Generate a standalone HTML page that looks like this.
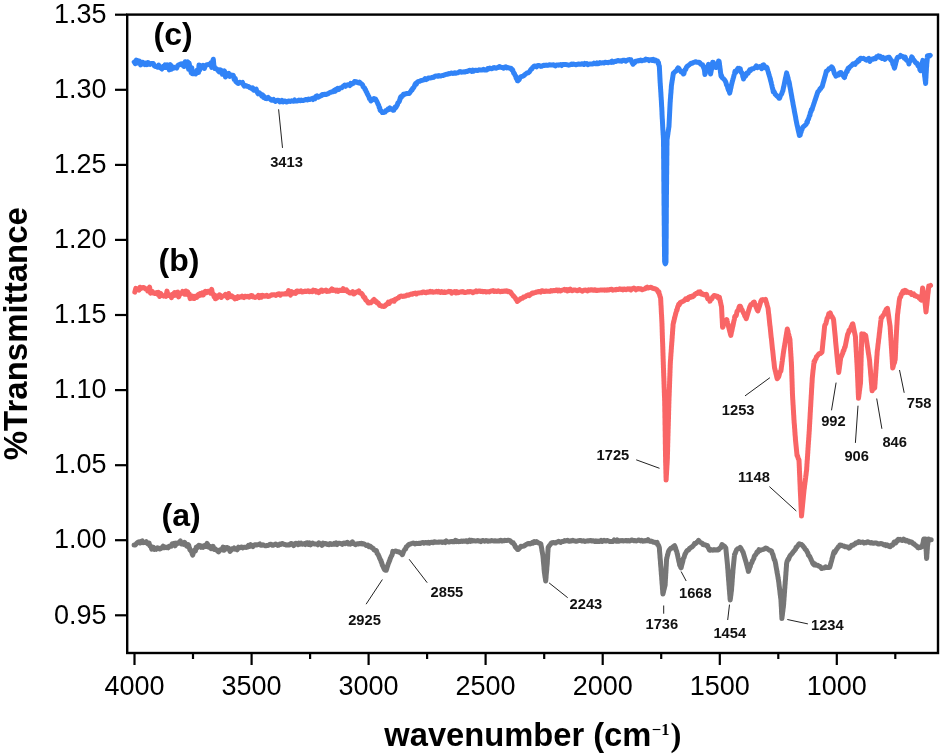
<!DOCTYPE html>
<html><head><meta charset="utf-8"><title>FTIR spectra</title>
<style>
html,body{margin:0;padding:0;background:#fff;}
body{width:942px;height:756px;overflow:hidden;}
svg{display:block;}
text{font-family:"Liberation Sans",Arial,sans-serif;fill:#000;}
.yt{font-size:27px;text-anchor:end;}
.xt{font-size:27px;text-anchor:middle;}
.pk{font-size:14.7px;font-weight:bold;fill:#111;}
.pl{font-size:32px;font-weight:bold;}
.at{font-size:33px;font-weight:bold;}
.sup{font-family:"Liberation Serif",serif;font-size:16.5px;font-weight:bold;}
.rp{font-family:"Liberation Serif",serif;font-weight:bold;}
</style></head>
<body><svg width="942" height="756" viewBox="0 0 942 756">
<rect width="942" height="756" fill="#fff"/>
<rect x="127.2" y="14.6" width="810.8" height="638.4" fill="none" stroke="#000" stroke-width="2.4"/>
<line x1="115" y1="14.7" x2="127.2" y2="14.7" stroke="#000" stroke-width="2.2"/>
<text class="yt" x="106.5" y="22.9">1.35</text>
<line x1="115" y1="89.8" x2="127.2" y2="89.8" stroke="#000" stroke-width="2.2"/>
<text class="yt" x="106.5" y="98.0">1.30</text>
<line x1="115" y1="164.9" x2="127.2" y2="164.9" stroke="#000" stroke-width="2.2"/>
<text class="yt" x="106.5" y="173.1">1.25</text>
<line x1="115" y1="239.9" x2="127.2" y2="239.9" stroke="#000" stroke-width="2.2"/>
<text class="yt" x="106.5" y="248.1">1.20</text>
<line x1="115" y1="315.0" x2="127.2" y2="315.0" stroke="#000" stroke-width="2.2"/>
<text class="yt" x="106.5" y="323.2">1.15</text>
<line x1="115" y1="390.1" x2="127.2" y2="390.1" stroke="#000" stroke-width="2.2"/>
<text class="yt" x="106.5" y="398.3">1.10</text>
<line x1="115" y1="465.2" x2="127.2" y2="465.2" stroke="#000" stroke-width="2.2"/>
<text class="yt" x="106.5" y="473.4">1.05</text>
<line x1="115" y1="540.2" x2="127.2" y2="540.2" stroke="#000" stroke-width="2.2"/>
<text class="yt" x="106.5" y="548.4">1.00</text>
<line x1="115" y1="615.3" x2="127.2" y2="615.3" stroke="#000" stroke-width="2.2"/>
<text class="yt" x="106.5" y="623.5">0.95</text>
<line x1="134.5" y1="653.0" x2="134.5" y2="665" stroke="#000" stroke-width="2.2"/>
<text class="xt" x="134.5" y="694.8">4000</text>
<line x1="193.0" y1="653.0" x2="193.0" y2="659" stroke="#000" stroke-width="2.2"/>
<line x1="251.6" y1="653.0" x2="251.6" y2="665" stroke="#000" stroke-width="2.2"/>
<text class="xt" x="251.6" y="694.8">3500</text>
<line x1="310.1" y1="653.0" x2="310.1" y2="659" stroke="#000" stroke-width="2.2"/>
<line x1="368.6" y1="653.0" x2="368.6" y2="665" stroke="#000" stroke-width="2.2"/>
<text class="xt" x="368.6" y="694.8">3000</text>
<line x1="427.1" y1="653.0" x2="427.1" y2="659" stroke="#000" stroke-width="2.2"/>
<line x1="485.6" y1="653.0" x2="485.6" y2="665" stroke="#000" stroke-width="2.2"/>
<text class="xt" x="485.6" y="694.8">2500</text>
<line x1="544.2" y1="653.0" x2="544.2" y2="659" stroke="#000" stroke-width="2.2"/>
<line x1="602.7" y1="653.0" x2="602.7" y2="665" stroke="#000" stroke-width="2.2"/>
<text class="xt" x="602.7" y="694.8">2000</text>
<line x1="661.2" y1="653.0" x2="661.2" y2="659" stroke="#000" stroke-width="2.2"/>
<line x1="719.8" y1="653.0" x2="719.8" y2="665" stroke="#000" stroke-width="2.2"/>
<text class="xt" x="719.8" y="694.8">1500</text>
<line x1="778.3" y1="653.0" x2="778.3" y2="659" stroke="#000" stroke-width="2.2"/>
<line x1="836.8" y1="653.0" x2="836.8" y2="665" stroke="#000" stroke-width="2.2"/>
<text class="xt" x="836.8" y="694.8">1000</text>
<line x1="895.3" y1="653.0" x2="895.3" y2="659" stroke="#000" stroke-width="2.2"/>
<path d="M134.1 545.0L135.3 545.0L136.6 543.4L137.8 542.3L139.0 541.8L140.1 542.9L141.1 541.5L142.2 540.9L143.3 542.6L144.3 542.3L145.4 542.6L146.3 541.7L147.2 543.4L148.2 544.0L149.1 543.1L150.0 546.1L150.9 546.4L151.7 549.1L152.6 547.2L153.5 547.3L154.3 549.4L155.2 548.7L156.3 549.3L157.5 547.8L158.6 548.2L159.7 549.0L160.9 548.4L162.0 547.6L163.1 546.2L164.1 547.7L165.2 547.1L166.2 547.7L167.3 547.0L168.3 547.8L169.4 546.3L170.3 546.1L171.2 546.2L172.2 543.8L173.1 544.0L174.0 543.4L175.1 545.8L176.1 543.2L177.2 543.7L178.2 543.3L179.3 542.0L180.4 540.9L181.4 544.0L182.4 542.8L183.5 544.3L184.6 542.4L185.6 543.8L186.6 546.0L187.7 546.6L188.3 544.6L188.8 545.5L189.4 548.0L189.9 549.8L190.5 550.2L191.1 551.3L191.6 550.9L192.1 553.6L192.7 555.2L193.4 552.5L194.1 550.4L194.8 550.2L195.5 550.8L196.2 547.2L196.9 548.1L197.6 546.2L198.3 546.3L199.0 545.2L200.0 545.6L201.0 547.3L202.0 546.2L203.1 547.3L204.1 545.7L205.1 545.4L206.1 546.4L207.1 543.3L208.1 546.8L209.1 547.4L210.0 546.3L211.0 548.6L212.0 547.9L213.1 546.3L214.2 549.3L215.2 548.9L216.3 549.9L217.4 550.8L218.6 551.9L219.8 550.1L221.0 549.5L222.0 549.7L223.0 547.1L223.9 550.3L224.9 547.5L225.9 549.0L226.9 547.5L227.9 547.8L229.0 548.7L230.0 551.4L231.0 550.3L232.0 548.8L233.1 549.0L234.1 548.0L235.1 549.1L236.2 548.5L237.2 549.8L238.4 547.2L239.5 548.0L240.7 547.2L241.8 547.0L243.0 547.9L244.1 547.3L245.2 547.3L246.3 547.4L247.4 547.1L248.5 545.4L249.6 546.3L250.7 544.7L251.8 545.6L252.9 546.6L254.0 545.1L255.2 544.8L256.3 545.0L257.5 544.7L258.6 544.6L259.8 543.9L260.8 545.2L261.9 545.3L262.9 544.8L264.0 545.3L265.0 545.7L266.1 545.8L267.1 545.4L268.2 545.4L269.2 544.8L270.3 544.2L271.4 544.5L272.4 545.3L273.5 545.2L274.5 544.6L275.6 544.1L276.7 544.6L277.7 545.4L278.8 545.2L279.8 544.0L280.9 544.4L282.0 543.5L283.0 543.7L284.1 544.5L285.1 544.4L286.2 545.0L287.3 545.1L288.3 544.8L289.4 545.0L290.5 543.8L291.5 543.4L292.6 544.3L293.7 545.6L294.8 544.1L295.8 543.2L296.9 543.9L298.0 544.6L299.0 543.1L300.1 544.1L301.1 543.2L302.2 544.3L303.3 543.9L304.3 543.6L305.4 544.5L306.4 543.0L307.5 542.8L308.5 544.4L309.6 542.9L310.6 544.8L311.7 543.6L312.7 543.1L313.8 543.8L314.8 544.0L315.8 544.1L316.9 544.0L317.9 544.8L319.0 542.9L320.0 544.1L321.0 544.2L322.0 545.4L323.0 543.0L324.0 544.0L325.0 543.4L326.1 543.7L327.1 544.4L328.1 544.2L329.1 544.7L330.1 543.5L331.1 543.9L332.1 544.4L333.1 544.2L334.1 543.4L335.1 544.2L336.2 542.9L337.2 544.5L338.2 543.5L339.2 543.2L340.2 543.4L341.2 543.7L342.2 544.3L343.2 543.2L344.2 543.1L345.3 543.7L346.3 542.8L347.3 542.4L348.3 543.9L349.3 543.2L350.3 544.1L351.3 542.9L352.4 541.8L353.4 543.7L354.4 543.7L355.4 544.6L356.4 543.9L357.4 543.8L358.4 544.0L359.5 543.5L360.5 543.8L361.5 543.2L362.5 544.0L363.6 543.8L364.6 544.3L365.7 545.1L366.8 545.6L367.8 545.1L368.9 546.7L369.9 546.0L371.0 546.9L371.8 547.6L372.5 548.0L373.3 548.6L374.0 549.9L374.8 550.2L375.5 550.7L376.3 550.5L376.8 551.8L377.2 553.6L377.7 554.1L378.2 554.6L378.6 555.7L379.1 556.7L379.6 558.1L380.0 558.9L380.5 560.1L380.9 560.3L381.2 562.0L381.6 562.3L381.9 563.4L382.3 565.1L382.6 565.4L383.0 566.3L383.3 567.2L383.7 568.0L384.5 569.5L385.4 570.2L386.2 570.3L386.6 569.2L386.9 568.2L387.2 567.1L387.6 566.0L387.9 565.0L388.3 563.9L388.6 562.9L389.0 562.1L389.4 560.9L389.8 560.3L390.1 558.9L390.5 558.1L390.9 557.1L391.3 556.1L391.7 555.7L392.1 554.8L392.4 553.7L392.8 551.4L393.2 551.9L394.3 551.5L395.4 551.0L396.4 551.2L397.5 551.7L398.6 551.7L399.6 552.3L400.5 552.9L401.4 553.6L402.4 554.7L402.9 553.3L403.4 551.9L403.9 551.0L404.4 550.1L404.9 549.2L405.6 549.1L406.3 546.8L407.0 546.6L407.8 545.5L408.5 544.8L409.2 544.3L410.2 544.2L411.2 543.6L412.2 543.4L413.2 543.0L414.2 543.4L415.2 543.9L416.2 543.2L417.2 543.6L418.2 543.5L419.2 543.3L420.2 543.5L421.2 543.0L422.2 542.6L423.2 542.4L424.2 543.2L425.2 542.6L426.2 542.6L427.2 543.0L428.2 542.3L429.2 543.3L430.2 542.8L431.2 542.3L432.3 542.2L433.3 542.8L434.3 541.8L435.3 542.0L436.3 542.2L437.3 542.3L438.3 542.1L439.3 542.2L440.3 541.9L441.3 541.9L442.4 542.4L443.4 542.1L444.4 541.7L445.4 542.5L446.4 541.0L447.4 541.7L448.4 541.9L449.4 542.0L450.4 541.6L451.4 541.4L452.4 541.8L453.5 541.4L454.5 541.7L455.5 540.3L456.5 541.6L457.5 541.1L458.5 541.7L459.5 541.6L460.5 541.6L461.5 541.1L462.5 541.4L463.6 541.0L464.6 541.2L465.6 541.0L466.6 540.7L467.6 541.8L468.6 541.3L469.6 540.2L470.6 541.4L471.6 540.4L472.7 540.9L473.7 540.8L474.7 540.8L475.7 541.1L476.7 540.9L477.7 540.4L478.7 541.0L479.8 541.1L480.8 541.7L481.8 540.8L482.8 540.5L483.8 540.8L484.8 541.3L485.8 540.6L486.9 540.7L487.9 541.2L488.9 541.0L489.9 541.1L490.9 540.7L491.9 540.6L492.9 540.8L493.9 540.9L494.9 540.8L495.9 541.0L496.9 541.1L497.9 541.1L498.9 541.0L499.9 540.4L500.9 540.3L501.9 541.1L502.9 540.7L503.9 540.8L504.9 540.2L505.9 540.6L506.9 540.4L507.9 540.3L508.9 540.3L510.0 540.6L511.1 541.8L512.1 542.9L513.2 542.7L513.8 544.0L514.5 544.6L515.1 546.3L515.8 547.7L516.4 547.5L517.4 549.4L518.3 549.5L519.2 548.4L520.0 547.7L520.9 546.3L521.8 546.4L522.7 546.3L523.8 546.1L524.8 545.5L525.9 544.6L527.0 544.2L528.0 543.4L529.1 543.4L530.2 543.9L531.2 543.2L532.3 542.4L533.3 543.1L534.4 541.6L535.4 542.5L536.5 541.6L537.6 542.4L538.6 543.0L539.7 543.4L540.8 543.8L541.0 544.9L541.2 545.9L541.4 547.0L541.6 548.1L541.8 549.1L541.9 550.2L542.1 551.2L542.3 552.3L542.5 553.4L542.7 554.4L542.9 555.5L543.0 556.5L543.1 557.5L543.2 558.5L543.3 559.5L543.3 560.5L543.4 561.5L543.5 562.5L543.6 563.5L543.7 564.5L543.8 565.5L543.9 566.5L544.0 567.5L544.0 568.5L544.1 569.5L544.2 570.5L544.3 571.5L544.4 572.5L544.6 573.6L544.7 574.6L544.9 575.7L545.0 576.8L545.2 577.8L545.4 578.9L545.5 579.9L545.7 581.0L545.8 580.0L545.9 579.0L546.0 578.0L546.1 577.0L546.1 576.0L546.2 575.0L546.3 574.0L546.4 573.0L546.5 572.0L546.6 571.0L546.7 570.0L546.8 569.0L546.8 568.0L546.9 567.0L547.0 566.0L547.1 565.0L547.2 564.0L547.3 563.0L547.3 562.0L547.4 561.0L547.4 560.0L547.5 559.0L547.6 558.0L547.6 557.0L547.7 556.0L547.7 555.0L547.8 554.0L547.8 553.0L547.9 552.0L548.0 551.0L548.0 550.0L548.1 549.0L548.1 548.0L548.2 547.5L548.9 546.2L549.6 545.3L550.4 544.4L551.1 543.3L551.8 542.8L552.5 542.7L553.5 542.5L554.5 542.7L555.5 543.1L556.5 542.3L557.5 542.1L558.6 541.3L559.6 541.6L560.6 542.5L561.6 541.8L562.6 541.4L563.6 541.5L564.6 540.6L565.6 540.9L566.6 540.6L567.6 540.2L568.7 541.3L569.7 541.3L570.7 540.8L571.7 540.9L572.7 540.3L573.7 540.8L574.7 540.9L575.7 541.3L576.7 541.3L577.7 540.9L578.7 540.6L579.8 540.4L580.8 540.5L581.8 541.0L582.8 541.0L583.8 540.8L584.8 541.5L585.8 541.1L586.8 540.9L587.8 540.8L588.8 540.9L589.9 540.5L590.9 540.5L591.9 541.1L592.9 540.7L593.9 540.9L594.9 541.5L595.9 540.9L596.9 541.5L597.9 541.0L599.0 541.6L600.0 541.2L601.0 540.3L602.0 541.5L603.0 540.9L604.0 540.2L605.0 541.0L606.1 541.1L607.1 540.5L608.1 540.8L609.1 541.2L610.1 541.6L611.1 541.5L612.1 541.5L613.2 541.4L614.2 540.0L615.2 540.7L616.2 541.1L617.2 539.9L618.2 541.3L619.2 541.3L620.2 540.6L621.2 540.8L622.3 540.5L623.3 540.9L624.3 540.8L625.3 540.8L626.3 540.4L627.3 540.9L628.3 540.6L629.3 541.1L630.3 540.9L631.3 540.1L632.4 540.1L633.4 540.7L634.4 540.5L635.4 540.8L636.4 540.9L637.4 540.6L638.5 540.0L639.5 540.2L640.6 540.9L641.7 540.3L642.7 541.2L643.8 540.7L644.8 541.0L645.9 540.5L647.0 540.8L648.0 539.7L649.1 540.8L650.1 541.4L651.1 541.1L652.1 541.4L653.1 542.0L654.1 542.3L655.1 542.2L656.1 543.1L657.1 542.4L657.6 544.6L658.2 544.7L658.8 546.1L659.3 547.5L659.4 548.5L659.5 549.6L659.5 550.6L659.6 551.7L659.7 552.8L659.8 553.8L659.9 554.9L660.0 555.9L660.0 557.0L660.1 558.0L660.2 559.0L660.3 560.1L660.4 561.1L660.5 562.2L660.5 563.2L660.6 564.3L660.7 565.4L660.8 566.4L660.9 567.4L661.0 568.4L661.0 569.5L661.1 570.5L661.2 571.5L661.3 572.5L661.3 573.6L661.4 574.6L661.5 575.6L661.6 576.6L661.7 577.6L661.7 578.7L661.8 579.7L661.9 580.7L662.0 581.7L662.0 582.8L662.1 583.8L662.2 584.8L662.3 585.8L662.4 586.8L662.4 587.9L662.5 588.9L662.6 589.9L662.7 590.9L662.7 592.0L662.8 593.0L662.9 594.0L663.2 592.9L663.5 591.8L663.7 590.7L664.0 589.6L664.3 588.6L664.5 587.5L664.8 586.4L665.1 585.3L665.2 584.3L665.2 583.3L665.3 582.3L665.3 581.3L665.4 580.3L665.4 579.3L665.5 578.2L665.6 577.2L665.6 576.2L665.7 575.2L665.7 574.2L665.8 573.2L665.9 572.2L665.9 571.2L666.0 570.2L666.0 569.2L666.1 568.2L666.1 567.2L666.2 566.2L666.3 565.1L666.3 564.1L666.4 563.1L666.4 562.1L666.5 561.1L666.5 560.1L666.6 559.1L666.9 558.0L667.1 556.9L667.4 555.8L667.7 554.8L668.0 553.7L668.2 552.6L668.5 551.5L668.8 550.9L669.8 549.3L670.7 548.3L671.7 548.2L672.7 547.1L673.6 546.3L674.6 545.7L675.0 546.7L675.3 547.5L675.7 548.5L676.1 550.5L676.4 550.6L676.8 551.8L677.0 552.8L677.2 553.8L677.5 554.8L677.7 555.8L677.9 556.8L678.1 557.8L678.4 558.9L678.6 559.9L678.8 560.9L679.0 561.9L679.3 562.9L679.5 563.9L679.7 565.3L680.2 565.3L680.6 567.1L681.1 567.8L681.4 566.7L681.6 565.6L681.9 564.5L682.2 563.5L682.5 562.4L682.8 561.3L683.0 560.2L683.3 558.6L683.7 557.9L684.1 557.3L684.5 555.8L685.0 554.1L685.4 553.7L685.8 552.8L686.2 552.0L687.1 550.7L687.9 550.2L688.8 549.7L689.6 548.3L690.4 548.2L691.3 547.2L692.1 546.9L692.9 546.0L693.7 545.2L694.5 543.6L695.4 543.8L696.2 543.0L697.0 542.0L697.8 541.4L698.6 540.4L699.5 541.6L700.4 542.4L701.3 542.9L702.2 543.1L703.1 544.6L704.0 544.8L705.2 544.7L706.3 545.6L707.5 545.6L708.1 547.3L708.8 548.7L709.4 550.0L710.0 550.3L711.0 549.5L712.0 549.9L713.0 550.3L714.0 549.6L715.2 550.0L716.4 549.8L717.6 550.1L718.8 549.7L719.4 548.4L720.1 548.0L720.7 548.0L721.3 546.0L722.0 544.6L722.6 545.3L723.4 545.5L724.2 546.0L725.0 546.9L725.8 548.0L725.9 549.0L726.0 550.0L726.1 551.0L726.2 552.0L726.3 553.0L726.4 554.0L726.5 555.0L726.6 556.0L726.7 557.0L726.8 558.0L726.9 559.0L727.0 560.0L727.1 561.0L727.2 562.0L727.3 563.0L727.4 564.0L727.5 565.0L727.6 566.0L727.6 567.0L727.7 568.0L727.8 569.0L727.9 570.0L728.0 571.0L728.0 572.0L728.1 573.0L728.2 574.0L728.2 575.0L728.3 576.0L728.4 577.0L728.5 578.0L728.5 579.0L728.6 580.0L728.7 581.0L728.8 582.0L728.9 583.0L728.9 584.0L729.0 585.0L729.1 586.0L729.2 587.0L729.2 588.0L729.3 589.0L729.4 590.0L729.5 591.0L729.6 592.0L729.6 593.0L729.7 594.0L729.8 595.0L729.9 596.0L730.0 597.0L730.0 598.0L730.1 599.0L730.2 600.0L730.3 599.0L730.5 598.0L730.6 597.0L730.7 596.0L730.9 595.0L731.0 594.0L731.1 593.0L731.2 592.0L731.4 591.0L731.5 590.0L731.6 589.0L731.6 588.0L731.7 587.0L731.8 586.0L731.9 585.0L732.0 584.0L732.0 583.0L732.1 582.0L732.2 581.0L732.2 580.0L732.3 579.0L732.4 578.0L732.5 577.0L732.5 576.0L732.6 575.0L732.7 574.0L732.8 573.0L732.9 572.0L732.9 571.0L733.0 570.0L733.1 569.0L733.2 568.0L733.3 567.0L733.4 566.0L733.5 565.0L733.6 564.0L733.7 563.0L733.8 562.0L733.9 561.0L734.0 560.0L734.1 559.0L734.2 558.0L734.3 557.0L734.4 556.0L734.5 554.4L734.9 554.3L735.3 553.1L735.8 551.7L736.2 550.8L736.6 549.8L737.0 549.4L738.1 548.5L739.1 548.6L740.2 547.3L740.8 548.2L741.3 549.2L741.9 550.0L742.4 551.1L743.0 552.0L743.3 553.0L743.6 554.0L743.9 555.0L744.2 556.0L744.5 557.0L744.8 558.0L745.1 559.0L745.4 560.0L745.7 561.0L746.0 562.0L746.3 563.0L746.5 564.0L746.8 565.0L747.1 566.0L747.3 567.0L747.6 568.0L747.9 569.0L748.1 570.0L748.4 571.4L748.8 570.5L749.1 568.6L749.5 568.5L749.9 567.0L750.3 566.6L750.6 564.9L751.0 563.7L751.5 563.3L752.0 562.2L752.4 560.8L752.9 560.0L753.4 559.1L753.9 558.1L754.3 556.3L754.8 555.5L755.3 555.0L755.9 554.3L756.5 553.1L757.1 551.8L757.8 552.2L758.4 550.7L759.0 549.6L760.1 550.4L761.2 549.9L762.3 549.6L763.3 549.3L764.4 548.9L765.5 548.1L766.6 548.2L767.6 549.0L768.6 549.7L769.6 550.3L770.6 550.4L771.6 551.2L771.9 552.3L772.3 553.4L772.6 554.1L773.0 554.8L773.3 556.0L773.7 557.7L774.0 558.6L774.4 559.9L774.7 559.9L775.1 561.5L775.4 562.7L775.6 563.7L775.8 564.8L775.9 565.8L776.1 566.8L776.3 567.9L776.5 568.9L776.7 569.9L776.9 571.0L777.0 572.0L777.2 573.1L777.4 574.1L777.6 575.1L777.8 576.2L778.0 577.2L778.1 578.2L778.3 579.3L778.5 580.3L778.6 581.3L778.8 582.3L778.9 583.3L779.0 584.3L779.1 585.3L779.2 586.3L779.4 587.3L779.5 588.3L779.6 589.3L779.8 590.3L779.9 591.4L780.0 592.4L780.1 593.4L780.2 594.4L780.4 595.4L780.5 596.4L780.6 597.4L780.8 598.4L780.9 599.4L781.0 600.4L781.0 601.4L781.1 602.4L781.1 603.4L781.2 604.4L781.2 605.4L781.3 606.4L781.4 607.4L781.4 608.4L781.5 609.5L781.5 610.5L781.5 611.5L781.6 612.5L781.6 613.5L781.7 614.5L781.8 615.5L781.8 616.5L781.9 617.5L781.9 618.5L782.0 617.5L782.1 616.5L782.3 615.5L782.4 614.5L782.5 613.5L782.6 612.5L782.8 611.4L782.9 610.4L783.0 609.4L783.1 608.4L783.3 607.4L783.4 606.4L783.5 605.4L783.6 604.4L783.7 603.4L783.7 602.4L783.8 601.4L783.9 600.4L784.0 599.4L784.0 598.4L784.1 597.4L784.2 596.4L784.3 595.4L784.3 594.4L784.4 593.4L784.5 592.3L784.6 591.3L784.6 590.3L784.7 589.3L784.8 588.3L784.9 587.3L784.9 586.3L785.0 585.3L785.1 584.3L785.2 583.3L785.2 582.3L785.3 581.3L785.4 580.3L785.5 579.3L785.6 578.2L785.6 577.2L785.7 576.2L785.8 575.1L785.9 574.1L785.9 573.1L786.0 572.0L786.1 571.0L786.2 569.9L786.2 568.9L786.3 567.9L786.4 566.8L786.5 565.8L786.5 564.8L786.6 563.7L786.7 563.1L787.2 561.0L787.7 560.3L788.1 559.1L788.6 559.3L789.1 557.9L789.5 556.7L790.0 556.0L790.5 555.0L791.2 554.5L791.9 553.7L792.6 552.7L793.4 551.6L794.1 550.9L794.8 550.0L795.5 549.3L796.1 547.2L796.7 547.3L797.4 546.3L798.0 545.5L798.6 544.5L799.2 543.8L800.4 544.2L801.5 544.4L802.1 545.2L802.7 545.5L803.2 546.3L803.8 547.3L804.4 547.7L805.0 549.0L805.6 549.7L806.2 550.1L806.7 550.9L807.3 552.3L807.9 553.1L808.4 555.1L808.8 555.5L809.3 555.8L809.8 556.8L810.2 557.5L810.7 558.5L811.1 559.7L811.6 560.7L812.1 561.4L812.5 562.9L813.0 563.8L814.0 564.8L814.9 564.0L815.9 565.2L816.9 565.3L817.8 565.3L818.8 566.3L819.7 566.3L820.7 567.4L821.7 568.5L822.7 567.9L823.7 568.1L824.7 567.9L825.7 566.8L826.7 567.6L827.7 567.5L828.7 567.6L829.7 567.4L830.0 566.4L830.3 565.4L830.5 564.4L830.8 563.4L831.1 562.4L831.4 561.4L831.7 560.3L831.9 559.3L832.2 558.3L832.5 557.3L832.8 556.3L833.0 555.3L833.3 554.3L833.6 552.9L834.2 551.7L834.9 552.5L835.5 551.3L836.2 550.1L836.8 549.0L837.4 548.4L838.1 547.0L838.7 547.0L839.4 545.9L840.0 544.9L841.0 545.1L842.0 545.6L843.0 545.9L844.0 546.0L845.0 546.8L846.0 546.8L847.0 547.0L848.0 547.0L849.0 548.1L849.9 547.6L850.7 546.7L851.6 545.2L852.4 545.2L853.3 545.2L854.1 544.2L855.0 544.1L855.8 542.9L856.7 542.8L857.7 542.7L858.8 541.5L859.8 542.3L860.8 542.4L861.9 542.2L862.9 542.1L863.9 543.1L864.9 542.5L866.0 542.8L867.0 542.0L868.1 541.8L869.1 542.5L870.2 542.9L871.3 542.5L872.3 543.1L873.4 543.3L874.5 542.9L875.5 543.1L876.6 543.0L877.7 543.8L878.7 544.1L879.8 543.7L880.8 543.6L881.9 543.7L882.9 544.2L883.9 544.9L885.0 544.5L886.0 545.7L887.0 544.8L888.0 545.6L889.1 546.4L890.1 546.8L890.9 545.3L891.7 545.2L892.5 545.3L893.3 544.2L894.1 542.2L895.0 542.6L895.8 542.9L896.6 540.8L897.4 541.1L898.2 539.3L899.0 540.1L900.1 539.4L901.3 540.2L902.4 540.5L903.6 539.2L904.7 539.9L905.7 540.9L906.7 540.4L907.6 541.2L908.6 541.1L909.6 542.3L910.5 541.8L911.5 541.9L912.5 542.8L913.2 543.7L914.0 543.8L914.7 544.7L915.5 545.4L916.2 545.7L916.9 546.1L917.7 547.5L918.4 547.9L919.4 547.1L920.3 547.5L921.3 547.0L922.3 546.5L922.5 545.0L922.7 544.2L922.9 543.5L923.2 542.4L923.4 540.8L923.6 539.7L923.8 539.1L925.5 539.0L925.6 540.0L925.6 541.1L925.7 542.1L925.7 543.1L925.8 544.1L925.8 545.2L925.9 546.2L926.0 547.2L926.0 548.2L926.1 549.3L926.1 550.3L926.2 551.3L926.3 552.3L926.3 553.4L926.4 554.4L926.4 555.4L926.5 556.4L926.5 557.5L926.6 558.5L926.7 557.5L926.8 556.4L926.8 555.4L926.9 554.3L927.0 553.3L927.1 552.3L927.1 551.2L927.2 550.2L927.3 549.2L927.4 548.1L927.4 547.1L927.5 546.0L927.6 545.1L927.8 544.3L927.9 542.5L928.0 542.4L928.2 541.7L928.4 540.4L928.5 539.1L929.9 539.8L931.2 539.8" fill="none" stroke="#767676" stroke-width="5.0" stroke-linejoin="round" stroke-linecap="round"/>
<path d="M134.8 292.2L135.8 288.3L136.8 289.6L137.9 289.3L138.9 290.1L139.9 287.2L140.9 288.4L142.0 287.9L143.0 287.4L144.0 287.7L144.9 288.5L145.9 289.2L146.8 288.9L147.7 291.0L148.7 290.1L149.6 287.1L150.5 293.2L151.5 291.6L152.4 291.5L153.4 293.1L154.5 293.4L155.5 293.5L156.5 292.6L157.5 294.2L158.6 292.3L159.6 296.5L160.6 293.3L161.6 294.9L162.7 295.5L163.7 296.1L164.8 295.5L165.9 296.4L167.0 291.1L168.1 295.5L169.2 295.4L170.3 295.1L171.4 297.6L172.5 294.4L173.6 295.5L174.6 292.6L175.6 295.2L176.6 292.4L177.7 292.1L178.7 296.9L179.7 294.3L180.7 293.0L181.7 293.4L182.7 291.4L183.7 292.1L184.7 294.2L185.7 291.0L186.7 294.2L187.7 291.7L188.5 294.9L189.3 294.1L190.1 298.6L191.0 298.4L191.8 297.1L192.6 296.1L193.4 298.3L194.2 298.5L195.1 296.4L195.9 297.3L196.8 297.4L197.6 295.3L198.6 294.3L199.5 295.5L200.4 293.7L201.4 294.8L202.4 292.8L203.3 295.0L204.4 292.4L205.4 291.3L206.4 292.7L207.5 291.6L208.6 291.2L209.6 292.1L210.6 293.2L211.7 289.3L212.3 293.0L212.9 293.8L213.5 294.8L214.2 297.0L214.8 295.2L215.4 298.8L216.0 298.5L216.8 298.1L217.7 296.9L218.5 295.9L219.4 294.8L220.2 295.2L221.3 297.5L222.3 296.2L223.4 296.0L224.4 295.6L225.5 294.3L226.6 295.8L227.6 297.8L228.7 293.5L229.7 296.4L230.8 296.7L231.8 295.9L232.8 296.7L233.8 297.6L234.9 298.8L235.9 297.7L236.9 298.3L237.9 296.7L239.0 297.5L240.0 296.7L241.0 296.9L242.0 296.1L243.0 297.0L244.0 297.6L245.0 296.2L246.0 296.5L247.0 296.8L248.0 296.3L249.0 297.1L250.1 296.6L251.1 295.4L252.2 295.6L253.2 297.1L254.3 297.0L255.3 297.5L256.4 296.8L257.4 296.8L258.4 295.3L259.5 297.6L260.5 295.7L261.5 297.2L262.6 295.3L263.6 295.6L264.6 296.2L265.7 295.6L266.7 295.3L267.8 296.5L268.8 296.3L269.8 296.0L270.9 295.3L271.9 294.8L272.9 294.9L274.0 294.7L275.0 295.0L276.0 295.4L277.1 294.5L278.1 293.9L279.1 293.8L280.2 295.2L281.2 294.1L282.3 294.0L283.3 293.9L284.3 294.0L285.4 293.5L286.4 294.1L287.4 293.7L288.5 290.7L289.5 292.8L290.5 295.1L291.6 291.6L292.6 292.7L293.6 293.3L294.7 292.3L295.7 293.3L296.8 291.1L297.8 291.0L298.8 291.8L299.9 291.2L300.9 290.8L301.9 292.1L303.0 291.8L304.0 291.5L305.0 291.1L306.1 291.6L307.1 291.3L308.1 290.7L309.2 291.7L310.2 291.5L311.3 291.2L312.3 291.6L313.3 290.1L314.4 290.8L315.4 290.5L316.4 292.0L317.5 291.3L318.5 292.6L319.5 292.2L320.6 290.6L321.6 290.0L322.6 291.3L323.7 290.7L324.7 290.8L325.8 290.1L326.8 291.4L327.8 291.0L328.9 291.2L329.9 291.1L330.9 290.1L331.9 288.9L333.0 290.4L334.0 290.0L335.0 290.0L336.0 291.1L337.0 290.2L338.1 291.4L339.1 290.2L340.1 290.5L341.1 290.3L342.2 290.4L343.2 288.7L344.2 290.5L345.3 290.2L346.4 289.8L347.4 291.5L348.5 291.8L349.6 292.9L350.6 292.8L351.6 292.9L352.7 291.7L353.8 294.0L354.8 293.4L355.9 292.5L356.9 291.8L358.0 292.1L358.9 291.0L359.7 292.9L360.6 293.0L361.4 293.3L362.3 294.4L362.8 295.3L363.4 296.7L363.9 297.3L364.4 297.2L365.0 297.9L365.5 299.6L366.1 300.3L366.8 300.8L367.4 301.4L368.1 302.7L368.7 303.1L369.7 302.7L370.8 302.7L371.8 301.9L372.9 300.5L374.0 299.4L374.8 300.4L375.6 301.7L376.4 301.5L377.2 303.0L378.1 303.0L378.9 304.2L379.8 305.6L380.9 305.5L381.9 306.3L383.0 306.3L383.9 306.5L384.9 306.1L385.8 304.7L386.7 304.5L387.6 303.5L388.4 302.1L389.3 303.4L390.1 301.9L391.0 301.2L392.1 300.8L393.1 300.5L394.1 301.2L395.2 299.3L396.0 299.3L396.9 298.6L397.7 298.1L398.6 297.9L399.4 296.7L400.5 296.2L401.5 296.0L402.6 296.4L403.7 296.3L404.7 296.0L405.8 296.0L406.9 295.0L407.9 295.3L409.0 295.0L410.1 294.4L411.1 293.9L412.2 294.3L413.2 293.5L414.3 293.4L415.4 293.0L416.4 294.0L417.5 293.1L418.5 292.9L419.6 292.9L420.7 292.7L421.7 292.8L422.8 291.9L423.8 292.0L424.9 292.6L426.0 292.8L427.0 291.9L428.1 292.3L429.1 292.0L430.2 291.2L431.3 292.0L432.3 291.6L433.4 292.3L434.4 291.9L435.5 291.9L436.5 291.3L437.5 292.0L438.5 291.2L439.6 292.0L440.6 292.5L441.6 291.5L442.6 292.3L443.6 292.6L444.6 291.9L445.6 292.5L446.7 292.1L447.7 291.9L448.7 291.3L449.7 291.7L450.7 291.5L451.7 293.1L452.7 292.2L453.8 292.1L454.8 291.6L455.8 292.9L456.8 291.7L457.8 292.8L458.8 292.6L459.8 292.1L460.8 291.8L461.8 292.0L462.9 291.5L463.9 292.3L464.9 292.6L465.9 292.3L466.9 292.3L467.9 291.6L468.9 292.0L469.9 291.4L470.9 291.6L471.9 292.1L473.0 292.7L474.0 291.7L475.0 291.7L476.0 290.9L477.0 291.7L478.0 291.2L479.0 291.0L480.0 291.0L481.0 291.6L482.0 291.3L483.0 291.8L484.1 291.4L485.1 291.4L486.1 292.0L487.1 291.7L488.1 291.7L489.1 291.9L490.1 291.4L491.1 290.9L492.1 290.9L493.1 290.6L494.2 291.4L495.2 291.0L496.2 291.4L497.2 291.5L498.2 290.8L499.2 291.2L500.3 291.7L501.3 291.2L502.4 291.6L503.5 291.2L504.5 291.0L505.6 291.3L506.7 290.7L507.8 291.8L508.8 291.3L509.9 292.1L510.6 292.0L511.3 293.4L512.0 294.3L512.7 295.0L513.4 296.1L514.1 296.5L514.7 297.3L515.4 298.1L516.0 299.3L516.7 300.2L517.3 301.5L518.2 300.7L519.1 300.0L520.0 299.4L520.8 298.4L521.7 298.4L522.6 298.2L523.5 297.0L524.5 296.9L525.4 296.8L526.4 295.8L527.3 295.6L528.3 294.9L529.2 295.6L530.2 294.7L531.1 294.1L532.2 293.0L533.2 293.3L534.3 292.7L535.4 292.6L536.4 292.0L537.5 292.0L538.5 291.4L539.6 291.5L540.6 292.1L541.7 290.7L542.7 290.7L543.7 291.4L544.7 291.5L545.8 290.9L546.8 291.3L547.8 291.2L548.9 291.2L549.9 291.4L550.9 290.6L551.9 291.0L553.0 290.8L554.0 290.4L555.0 290.8L556.1 290.0L557.1 289.9L558.1 290.9L559.1 290.0L560.2 291.0L561.2 290.7L562.2 290.1L563.2 289.9L564.2 289.4L565.3 290.3L566.3 289.6L567.3 290.9L568.3 289.6L569.3 290.3L570.3 289.2L571.3 290.2L572.4 290.8L573.4 290.1L574.4 290.0L575.4 290.1L576.4 290.5L577.4 290.7L578.4 290.2L579.5 289.5L580.5 290.4L581.5 290.7L582.5 291.2L583.5 290.3L584.5 290.3L585.5 290.0L586.5 290.5L587.5 290.9L588.6 289.8L589.6 290.2L590.6 289.7L591.6 289.8L592.6 290.0L593.6 290.3L594.6 289.7L595.6 289.9L596.6 290.6L597.6 290.2L598.7 290.3L599.7 290.1L600.7 289.9L601.7 290.1L602.7 290.1L603.7 289.9L604.7 290.3L605.7 289.9L606.7 290.2L607.7 289.8L608.7 290.1L609.8 289.5L610.8 289.5L611.8 289.2L612.8 290.2L613.8 289.9L614.8 289.7L615.8 289.9L616.8 289.2L617.8 289.6L618.8 289.3L619.9 288.8L620.9 289.4L621.9 289.1L622.9 290.0L623.9 289.1L624.9 289.1L625.9 289.8L626.9 289.3L627.9 288.7L628.9 289.3L629.9 288.9L630.9 289.9L631.9 288.7L632.9 288.8L633.9 288.0L634.9 288.8L635.9 289.8L636.9 288.9L637.9 288.5L638.9 289.0L639.9 288.7L640.9 288.8L641.9 289.8L643.0 289.4L644.0 289.1L645.1 288.9L646.1 287.7L647.2 287.1L648.3 288.0L649.3 287.6L650.4 287.3L651.5 287.5L652.5 288.3L653.6 288.5L654.6 288.7L655.7 289.1L656.5 289.5L657.3 290.2L658.1 292.1L658.9 291.8L659.2 294.2L659.5 294.4L659.8 295.0L660.0 296.7L660.3 296.7L660.6 298.0L660.7 299.0L660.7 300.1L660.8 301.1L660.8 302.1L660.9 303.2L660.9 304.2L661.0 305.2L661.1 306.2L661.1 307.3L661.2 308.3L661.2 309.3L661.3 310.4L661.3 311.4L661.4 312.4L661.4 313.5L661.5 314.5L661.6 315.5L661.6 316.5L661.7 317.6L661.7 318.6L661.8 319.6L661.8 320.7L661.9 321.7L661.9 322.7L662.0 323.7L662.0 324.7L662.0 325.8L662.1 326.8L662.1 327.8L662.1 328.8L662.2 329.8L662.2 330.8L662.2 331.8L662.3 332.9L662.3 333.9L662.3 334.9L662.4 335.9L662.4 336.9L662.4 337.9L662.5 338.9L662.5 340.0L662.5 341.0L662.6 342.0L662.6 343.0L662.7 344.0L662.7 345.0L662.7 346.1L662.8 347.1L662.8 348.1L662.8 349.1L662.9 350.1L662.9 351.1L662.9 352.1L663.0 353.2L663.0 354.2L663.0 355.2L663.1 356.2L663.1 357.2L663.1 358.2L663.2 359.2L663.2 360.3L663.2 361.3L663.3 362.3L663.3 363.3L663.3 364.3L663.4 365.3L663.4 366.4L663.4 367.4L663.5 368.4L663.5 369.4L663.6 370.5L663.6 371.5L663.6 372.5L663.7 373.5L663.7 374.6L663.7 375.6L663.8 376.6L663.8 377.6L663.9 378.7L663.9 379.7L663.9 380.7L664.0 381.7L664.0 382.8L664.0 383.8L664.1 384.8L664.1 385.8L664.1 386.8L664.2 387.9L664.2 388.9L664.3 389.9L664.3 390.9L664.3 392.0L664.4 393.0L664.4 394.0L664.4 395.0L664.5 396.1L664.5 397.1L664.6 398.1L664.6 399.1L664.6 400.2L664.7 401.2L664.7 402.2L664.7 403.2L664.7 404.2L664.7 405.2L664.8 406.3L664.8 407.3L664.8 408.3L664.8 409.3L664.8 410.3L664.8 411.3L664.9 412.3L664.9 413.4L664.9 414.4L664.9 415.4L664.9 416.4L664.9 417.4L665.0 418.4L665.0 419.4L665.0 420.5L665.0 421.5L665.0 422.5L665.0 423.5L665.0 424.5L665.1 425.5L665.1 426.5L665.1 427.6L665.1 428.6L665.1 429.6L665.1 430.6L665.2 431.6L665.2 432.6L665.2 433.6L665.2 434.6L665.2 435.7L665.2 436.7L665.3 437.7L665.3 438.7L665.3 439.7L665.3 440.7L665.3 441.7L665.3 442.8L665.3 443.8L665.4 444.8L665.4 445.8L665.4 446.8L665.4 447.8L665.4 448.8L665.4 449.9L665.5 450.9L665.5 451.9L665.5 452.9L665.5 453.9L665.5 454.9L665.5 455.9L665.6 457.0L665.6 458.0L665.6 459.0L665.6 460.0L665.6 461.0L665.6 462.0L665.7 463.0L665.7 464.0L665.7 465.0L665.8 466.0L665.8 467.0L665.8 468.0L665.8 469.0L665.9 470.0L665.9 471.0L665.9 472.0L665.9 473.0L666.0 474.0L666.0 475.0L666.0 476.0L666.0 477.0L666.1 478.0L666.1 479.0L666.1 480.0L666.2 479.0L666.2 478.0L666.3 477.0L666.3 476.0L666.4 475.0L666.5 474.0L666.5 473.0L666.6 472.0L666.6 471.0L666.7 470.0L666.8 469.0L666.8 468.0L666.9 467.0L666.9 466.0L667.0 465.0L667.1 464.0L667.1 463.0L667.2 462.0L667.2 461.0L667.3 460.0L667.3 459.0L667.4 458.0L667.4 457.0L667.4 455.9L667.4 454.9L667.5 453.9L667.5 452.9L667.5 451.9L667.6 450.9L667.6 449.9L667.6 448.8L667.6 447.8L667.7 446.8L667.7 445.8L667.7 444.8L667.7 443.8L667.8 442.8L667.8 441.7L667.8 440.7L667.9 439.7L667.9 438.7L667.9 437.7L667.9 436.7L668.0 435.7L668.0 434.6L668.0 433.6L668.1 432.6L668.1 431.6L668.1 430.6L668.1 429.6L668.2 428.6L668.2 427.6L668.2 426.5L668.3 425.5L668.3 424.5L668.3 423.5L668.3 422.5L668.4 421.5L668.4 420.5L668.4 419.4L668.5 418.4L668.5 417.4L668.5 416.4L668.5 415.4L668.6 414.4L668.6 413.4L668.6 412.3L668.6 411.3L668.7 410.3L668.7 409.3L668.7 408.3L668.8 407.3L668.8 406.3L668.8 405.2L668.8 404.2L668.9 403.2L668.9 402.2L668.9 401.2L669.0 400.2L669.0 399.1L669.0 398.1L669.1 397.1L669.1 396.1L669.2 395.0L669.2 394.0L669.2 393.0L669.3 392.0L669.3 390.9L669.3 389.9L669.4 388.9L669.4 387.9L669.5 386.8L669.5 385.8L669.5 384.8L669.6 383.8L669.6 382.8L669.6 381.7L669.7 380.7L669.7 379.7L669.7 378.7L669.8 377.6L669.8 376.6L669.9 375.6L669.9 374.6L669.9 373.5L670.0 372.5L670.0 371.5L670.0 370.5L670.1 369.4L670.1 368.4L670.2 367.4L670.2 366.4L670.2 365.3L670.3 364.3L670.3 363.3L670.4 362.3L670.4 361.3L670.5 360.3L670.6 359.3L670.7 358.3L670.7 357.3L670.8 356.3L670.9 355.3L670.9 354.3L671.0 353.3L671.1 352.3L671.2 351.3L671.2 350.3L671.3 349.3L671.4 348.3L671.4 347.3L671.5 346.3L671.6 345.3L671.7 344.3L671.7 343.4L671.8 342.4L671.9 341.4L672.0 340.4L672.0 339.4L672.1 338.4L672.2 337.4L672.2 336.4L672.3 335.4L672.4 334.4L672.5 333.4L672.5 332.4L672.6 331.4L672.7 330.4L672.7 329.4L672.8 328.4L672.9 327.4L673.0 326.4L673.0 325.4L673.1 324.3L673.4 323.0L673.7 322.0L673.9 321.2L674.2 319.6L674.5 318.5L674.7 317.5L675.0 316.4L675.3 315.4L675.5 314.3L675.8 313.2L676.1 312.2L676.4 311.1L676.6 310.1L676.9 310.3L677.4 308.4L677.8 306.5L678.3 305.7L678.7 304.2L679.2 304.9L679.6 304.1L680.1 302.8L681.0 302.3L681.9 301.9L682.9 301.3L683.8 300.9L684.7 300.1L685.6 298.8L686.6 299.6L687.6 299.6L688.6 297.4L689.5 297.7L690.4 296.6L691.2 297.1L692.1 296.1L693.0 296.6L693.9 295.9L694.8 294.4L695.7 293.8L696.6 293.2L697.4 293.4L698.3 292.0L699.2 292.3L700.1 291.8L700.9 293.9L701.8 294.2L702.6 293.8L703.5 294.7L705.1 294.4L705.8 295.4L706.5 294.3L707.2 297.1L707.8 298.8L708.5 298.5L709.2 298.8L709.9 301.2L710.6 299.9L711.3 299.2L712.0 298.7L712.7 296.9L713.4 296.5L714.1 295.5L715.2 295.7L716.2 296.4L717.3 296.2L718.3 298.1L719.4 297.3L719.6 298.4L719.9 299.4L720.1 300.5L720.3 301.5L720.6 302.6L720.8 303.6L721.0 304.7L721.3 305.7L721.5 306.8L721.6 307.8L721.6 308.8L721.7 309.8L721.7 310.8L721.8 311.9L721.8 312.9L721.9 313.9L721.9 314.9L722.0 315.9L722.0 316.9L722.1 317.9L722.2 318.9L722.2 319.9L722.3 320.9L722.3 321.9L722.4 323.0L722.4 324.0L722.5 325.0L722.5 326.0L722.6 327.3L723.1 326.5L723.6 324.0L724.2 324.0L724.7 323.0L725.2 322.3L725.7 321.5L726.8 319.6L727.0 320.6L727.3 321.6L727.5 322.6L727.8 323.6L728.0 324.5L728.3 325.5L728.5 326.5L728.8 327.5L729.0 328.5L729.3 329.5L729.5 330.5L729.8 331.4L730.0 332.4L730.3 333.4L730.5 334.4L730.8 335.4L731.0 334.4L731.2 333.4L731.4 332.4L731.7 331.4L731.9 330.4L732.1 329.4L732.3 328.4L732.5 327.4L732.8 326.4L733.0 325.4L733.2 324.4L733.4 323.4L733.6 322.4L733.8 321.4L734.1 320.4L734.3 319.4L734.5 318.4L734.7 316.9L735.1 315.9L735.6 316.0L736.0 315.9L736.4 314.8L736.8 312.4L737.2 311.1L737.7 310.7L738.1 310.0L738.5 309.8L738.9 307.6L739.4 306.3L739.8 306.4L740.3 306.3L740.8 307.2L741.3 309.0L741.8 309.5L742.2 310.0L742.7 311.4L743.2 312.3L743.7 313.4L744.2 314.1L744.7 315.9L745.2 316.4L745.7 317.3L746.2 318.7L746.5 317.7L746.8 316.7L747.1 315.7L747.4 314.7L747.7 313.7L748.0 312.7L748.3 311.8L748.6 310.8L748.9 309.8L749.2 308.8L749.5 307.8L749.8 306.8L750.1 306.4L750.9 304.5L751.6 304.7L752.4 303.9L753.1 302.6L753.9 302.1L754.3 302.1L754.8 304.1L755.2 304.4L755.6 305.5L756.1 307.2L756.5 307.5L756.9 309.1L757.4 310.2L757.8 311.0L758.1 310.0L758.4 309.1L758.8 308.1L759.1 307.1L759.4 306.2L759.7 305.2L760.0 304.2L760.3 303.3L760.6 302.3L761.0 301.3L761.3 300.4L761.6 300.0L762.9 299.6L764.2 300.0L765.5 299.4L765.8 300.4L766.1 301.4L766.4 302.4L766.7 303.4L766.9 304.4L767.2 305.4L767.5 306.4L767.8 307.4L768.1 308.4L768.2 309.4L768.3 310.4L768.4 311.4L768.5 312.4L768.6 313.4L768.8 314.4L768.9 315.4L769.0 316.4L769.1 317.4L769.2 318.4L769.3 319.4L769.4 320.5L769.5 321.5L769.6 322.5L769.7 323.5L769.8 324.5L769.9 325.5L770.1 326.5L770.2 327.5L770.3 328.5L770.4 329.5L770.5 330.5L770.6 331.5L770.7 332.5L770.8 333.5L770.9 334.5L771.0 335.5L771.1 336.5L771.2 337.5L771.4 338.5L771.5 339.5L771.6 340.5L771.7 341.5L771.8 342.5L771.9 343.5L772.0 344.5L772.1 345.5L772.2 346.5L772.3 347.5L772.4 348.5L772.5 349.5L772.7 350.5L772.8 351.5L772.9 352.5L773.0 353.5L773.1 354.5L773.2 355.5L773.3 356.5L773.4 357.5L773.5 358.5L773.6 359.5L773.7 360.5L773.9 361.5L774.0 362.5L774.1 363.5L774.2 364.5L774.3 365.5L774.4 366.5L774.5 367.5L774.7 368.5L775.0 369.4L775.2 370.4L775.4 371.4L775.7 372.4L775.9 373.4L776.1 374.3L776.4 375.3L776.6 376.3L776.8 377.2L777.1 378.2L777.3 378.7L777.8 377.9L778.2 377.5L778.6 376.8L779.1 375.4L779.5 373.7L780.0 372.4L780.4 371.4L780.9 371.0L781.0 370.0L781.2 369.0L781.3 368.0L781.4 367.0L781.6 366.0L781.7 365.0L781.9 364.0L782.0 363.0L782.1 362.0L782.3 361.1L782.4 360.1L782.5 359.1L782.7 358.1L782.8 357.1L783.0 356.1L783.1 355.1L783.2 354.1L783.4 353.1L783.5 352.1L783.7 351.1L783.8 350.1L784.0 349.1L784.2 348.1L784.3 347.1L784.5 346.1L784.7 345.1L784.8 344.1L785.0 343.1L785.2 342.1L785.3 341.1L785.5 340.0L785.6 339.0L785.8 338.0L786.0 337.0L786.1 336.0L786.3 335.0L786.5 334.0L786.6 333.0L786.8 332.0L787.0 331.0L787.1 330.0L787.3 329.0L787.6 330.0L787.8 331.0L788.1 332.1L788.3 333.1L788.6 334.1L788.9 335.1L789.1 336.1L789.4 337.2L789.6 338.2L789.9 339.2L790.0 340.2L790.0 341.3L790.1 342.3L790.2 343.3L790.2 344.3L790.3 345.4L790.3 346.4L790.4 347.4L790.5 348.5L790.5 349.5L790.6 350.5L790.7 351.5L790.7 352.6L790.8 353.6L790.9 354.6L790.9 355.6L791.0 356.7L791.1 357.7L791.1 358.7L791.2 359.8L791.2 360.8L791.3 361.8L791.4 362.8L791.4 363.9L791.5 364.9L791.5 365.9L791.6 366.9L791.6 367.9L791.6 368.9L791.7 369.9L791.7 370.9L791.7 371.9L791.8 372.9L791.8 373.9L791.8 374.9L791.9 375.9L791.9 376.9L791.9 377.9L792.0 378.9L792.0 379.9L792.0 381.0L792.1 382.0L792.1 383.0L792.1 384.0L792.2 385.0L792.2 386.0L792.2 387.0L792.3 388.0L792.3 389.0L792.3 390.0L792.4 391.0L792.4 392.0L792.4 393.0L792.5 394.0L792.5 395.0L792.6 396.0L792.6 397.0L792.7 398.0L792.7 399.0L792.8 400.0L792.9 401.0L792.9 402.0L793.0 403.0L793.0 404.0L793.1 405.0L793.2 406.0L793.2 407.0L793.3 408.0L793.3 409.0L793.4 410.0L793.5 411.0L793.5 412.0L793.6 413.0L793.6 414.0L793.7 415.0L793.8 416.0L793.8 417.0L793.9 418.0L793.9 419.0L794.0 420.0L794.1 421.0L794.1 422.0L794.2 423.0L794.3 424.0L794.4 425.0L794.5 426.0L794.5 427.0L794.6 428.0L794.7 429.0L794.8 430.0L794.8 431.0L794.9 432.0L795.0 433.0L795.0 434.0L795.1 435.0L795.2 436.0L795.3 437.0L795.4 438.0L795.4 439.0L795.5 440.0L795.6 441.0L795.7 442.0L795.8 443.0L795.9 444.0L796.0 445.0L796.1 446.0L796.2 447.0L796.3 448.0L796.4 449.0L796.5 450.0L796.6 451.0L796.7 452.0L796.8 453.0L796.9 454.0L797.0 455.7L797.4 455.4L797.8 456.9L798.2 458.4L798.6 459.3L799.0 460.0L799.0 461.0L799.1 462.1L799.1 463.1L799.2 464.1L799.2 465.2L799.3 466.2L799.3 467.2L799.4 468.3L799.4 469.3L799.4 470.3L799.5 471.4L799.5 472.4L799.6 473.4L799.6 474.5L799.7 475.5L799.7 476.5L799.8 477.6L799.8 478.6L799.8 479.6L799.9 480.7L799.9 481.7L800.0 482.7L800.0 483.8L800.1 484.8L800.1 485.8L800.2 486.9L800.2 487.9L800.2 488.9L800.3 489.9L800.3 490.9L800.4 491.9L800.4 492.9L800.5 493.9L800.5 494.9L800.6 496.0L800.6 497.0L800.7 498.0L800.7 499.0L800.8 500.0L800.8 501.0L800.9 502.0L800.9 503.0L800.9 504.0L801.0 505.0L801.0 506.0L801.1 507.0L801.1 508.0L801.2 509.1L801.2 510.1L801.3 511.1L801.3 512.1L801.4 513.1L801.4 514.1L801.5 515.1L801.5 516.1L801.6 515.1L801.7 514.1L801.8 513.0L801.9 512.0L802.0 511.0L802.1 510.0L802.2 508.9L802.3 507.9L802.4 506.9L802.5 505.9L802.6 504.8L802.7 503.8L802.8 502.8L802.9 501.8L803.0 500.7L803.1 499.7L803.2 498.7L803.3 497.7L803.4 496.6L803.5 495.6L803.6 494.6L803.7 493.6L803.8 492.5L803.9 491.5L804.0 490.5L804.1 489.5L804.3 488.4L804.4 487.4L804.5 486.4L804.6 485.4L804.8 484.3L804.9 483.3L805.0 482.3L805.2 481.2L805.3 480.2L805.4 479.2L805.6 478.1L805.7 477.1L805.8 476.1L806.0 475.0L806.1 474.0L806.2 473.0L806.3 472.0L806.5 470.9L806.6 469.9L806.7 468.9L806.7 467.9L806.8 466.9L806.9 465.8L806.9 464.8L807.0 463.8L807.1 462.8L807.1 461.8L807.2 460.8L807.3 459.8L807.4 458.8L807.4 457.7L807.5 456.7L807.6 455.7L807.6 454.7L807.7 453.7L807.8 452.7L807.8 451.7L807.9 450.6L808.0 449.6L808.0 448.6L808.1 447.6L808.2 446.6L808.2 445.6L808.3 444.6L808.4 443.6L808.4 442.5L808.5 441.5L808.6 440.5L808.7 439.5L808.7 438.5L808.8 437.5L808.9 436.5L808.9 435.5L809.0 434.4L809.1 433.4L809.1 432.4L809.2 431.4L809.3 430.4L809.3 429.4L809.4 428.4L809.4 427.3L809.5 426.3L809.5 425.3L809.6 424.3L809.7 423.3L809.7 422.3L809.8 421.3L809.8 420.3L809.9 419.2L810.0 418.2L810.0 417.2L810.1 416.2L810.1 415.2L810.2 414.2L810.2 413.2L810.3 412.2L810.4 411.1L810.4 410.1L810.5 409.1L810.5 408.1L810.6 407.1L810.7 406.1L810.7 405.1L810.8 404.1L810.8 403.0L810.9 402.0L810.9 401.0L811.0 400.0L811.1 399.0L811.1 398.0L811.2 397.0L811.2 396.0L811.3 395.0L811.4 394.0L811.4 393.0L811.5 392.0L811.5 391.0L811.6 390.0L811.6 389.0L811.7 388.0L811.8 387.0L811.8 386.0L811.9 385.0L811.9 384.0L812.0 383.0L812.1 382.0L812.1 381.0L812.2 380.0L812.2 379.0L812.3 378.0L812.4 377.0L812.5 376.0L812.6 375.0L812.7 374.0L812.8 373.0L812.9 372.0L813.0 371.0L813.1 370.0L813.3 369.0L813.4 368.0L813.5 367.0L813.6 366.0L813.7 365.0L813.8 364.0L813.9 363.0L814.0 361.6L814.5 362.2L815.0 360.1L815.5 359.2L816.0 358.5L816.5 356.8L817.0 356.4L817.8 355.3L818.7 354.2L819.5 353.5L820.3 353.6L821.2 352.8L822.0 352.1L822.1 351.1L822.2 350.0L822.3 349.0L822.4 348.0L822.5 347.0L822.6 345.9L822.7 344.9L822.8 343.9L822.9 342.8L823.0 341.8L823.1 340.8L823.2 339.8L823.4 338.7L823.5 337.7L823.6 336.7L823.7 335.7L823.8 334.6L823.9 333.6L824.0 332.6L824.1 331.5L824.2 330.5L824.3 329.5L824.4 328.5L824.5 327.4L824.6 326.3L824.9 325.2L825.3 324.4L825.6 324.0L826.0 323.3L826.3 321.5L826.6 320.9L827.0 318.6L827.3 318.1L827.7 317.5L828.0 316.4L828.3 316.4L828.7 313.8L829.0 314.4L829.4 313.6L829.7 313.5L830.2 312.9L830.7 314.4L831.2 316.0L831.7 316.7L832.1 316.5L832.6 317.8L833.1 318.3L833.6 320.0L833.7 321.0L833.8 322.0L833.9 323.1L834.0 324.1L834.1 325.1L834.2 326.1L834.3 327.1L834.4 328.2L834.5 329.2L834.6 330.2L834.7 331.2L834.8 332.2L834.9 333.3L835.0 334.3L835.1 335.3L835.2 336.3L835.3 337.3L835.4 338.4L835.5 339.4L835.5 340.4L835.6 341.4L835.7 342.5L835.8 343.5L835.9 344.5L836.0 345.5L836.1 346.5L836.2 347.6L836.3 348.6L836.4 349.6L836.5 350.6L836.6 351.6L836.7 352.7L836.8 353.7L836.9 354.7L837.0 355.7L837.1 356.7L837.2 357.8L837.3 358.8L837.4 359.8L837.5 360.9L837.6 361.9L837.7 363.0L837.8 364.1L837.9 365.1L838.0 366.2L838.2 367.3L838.3 368.3L838.4 369.4L838.5 370.5L838.6 371.5L838.7 372.6L838.8 371.6L839.0 370.5L839.1 369.5L839.3 368.5L839.4 367.5L839.5 366.4L839.7 365.4L839.8 364.4L840.0 363.4L840.1 362.3L840.2 361.3L840.4 360.3L840.5 359.3L840.7 358.2L840.8 357.2L841.2 356.7L841.6 356.1L842.0 354.7L842.4 354.0L842.8 353.2L843.1 351.1L843.5 351.1L843.9 350.3L844.3 348.7L844.7 347.3L845.1 346.9L845.3 345.9L845.5 344.9L845.7 343.9L845.9 343.0L846.1 342.0L846.3 341.0L846.5 340.0L846.7 339.0L846.9 338.0L847.1 337.1L847.3 336.1L847.5 335.1L847.7 334.2L848.2 333.3L848.6 332.6L849.1 330.2L849.6 330.1L850.0 330.6L850.5 329.3L850.9 327.5L851.4 326.4L851.9 325.5L852.3 324.2L852.8 323.8L853.0 324.8L853.2 325.8L853.4 326.8L853.6 327.7L853.8 328.7L854.0 329.7L854.2 330.7L854.4 331.7L854.6 332.7L854.8 333.6L855.0 334.6L855.2 335.6L855.4 336.6L855.5 337.6L855.5 338.7L855.6 339.7L855.6 340.7L855.7 341.8L855.8 342.8L855.8 343.8L855.9 344.8L855.9 345.9L856.0 346.9L856.1 347.9L856.1 349.0L856.2 350.0L856.2 351.0L856.3 352.1L856.4 353.1L856.4 354.1L856.5 355.1L856.5 356.2L856.6 357.2L856.7 358.2L856.7 359.3L856.8 360.3L856.8 361.3L856.9 362.4L857.0 363.4L857.0 364.4L857.1 365.4L857.1 366.5L857.2 367.5L857.2 368.5L857.3 369.6L857.3 370.6L857.4 371.6L857.4 372.6L857.5 373.7L857.5 374.7L857.5 375.7L857.6 376.7L857.6 377.8L857.7 378.8L857.7 379.8L857.8 380.8L857.8 381.9L857.9 382.9L857.9 383.9L857.9 385.0L858.0 386.0L858.0 387.0L858.1 388.0L858.1 389.1L858.2 390.1L858.2 391.1L858.2 392.1L858.3 393.2L858.3 394.2L858.4 395.2L858.4 396.2L858.5 397.3L858.5 398.3L858.6 397.3L858.8 396.2L858.9 395.2L859.0 394.2L859.2 393.2L859.3 392.1L859.4 391.1L859.6 390.1L859.7 389.1L859.8 388.0L860.0 387.0L860.1 386.0L860.2 385.0L860.4 383.9L860.5 382.9L860.5 381.9L860.6 380.9L860.6 379.8L860.6 378.8L860.6 377.8L860.7 376.8L860.7 375.8L860.7 374.8L860.7 373.8L860.8 372.7L860.8 371.7L860.8 370.7L860.9 369.7L860.9 368.7L860.9 367.6L860.9 366.6L861.0 365.6L861.0 364.6L861.0 363.6L861.0 362.6L861.1 361.6L861.1 360.5L861.1 359.5L861.1 358.5L861.2 357.5L861.2 356.5L861.2 355.4L861.3 354.4L861.3 353.4L861.3 352.4L861.3 351.4L861.4 350.4L861.4 349.4L861.4 348.3L861.4 347.3L861.5 346.3L861.5 345.3L861.5 344.3L861.6 343.2L861.6 342.2L861.6 341.2L861.6 340.2L861.7 339.2L861.7 338.2L861.7 337.2L861.7 336.1L861.8 335.1L861.8 333.8L862.8 334.4L863.8 334.0L864.7 335.0L865.7 335.4L865.9 336.4L866.0 337.4L866.2 338.4L866.3 339.5L866.5 340.5L866.7 341.5L866.8 342.5L867.0 343.5L867.1 344.6L867.3 345.6L867.4 346.6L867.6 347.6L867.8 348.6L867.9 349.6L868.1 350.6L868.2 351.7L868.4 352.7L868.5 353.7L868.7 354.7L868.9 355.7L869.0 356.8L869.2 357.8L869.3 358.8L869.5 359.8L869.6 360.8L869.7 361.9L869.8 362.9L869.8 363.9L869.9 364.9L870.0 366.0L870.1 367.0L870.2 368.0L870.3 369.0L870.4 370.1L870.5 371.1L870.5 372.1L870.6 373.1L870.7 374.2L870.8 375.2L870.9 376.2L871.0 377.3L871.1 378.3L871.1 379.3L871.2 380.3L871.3 381.4L871.4 382.4L871.5 383.4L871.6 384.4L871.7 385.5L871.8 386.5L871.8 387.5L871.9 388.5L872.0 389.6L872.1 390.8L873.0 389.0L873.8 388.6L874.7 388.0L874.8 387.0L874.8 385.9L874.9 384.9L875.0 383.9L875.1 382.9L875.1 381.8L875.2 380.8L875.3 379.8L875.3 378.8L875.4 377.7L875.5 376.7L875.6 375.7L875.6 374.7L875.7 373.6L875.8 372.6L875.8 371.6L875.9 370.6L876.0 369.5L876.1 368.5L876.1 367.5L876.2 366.5L876.3 365.4L876.3 364.4L876.4 363.4L876.5 362.4L876.6 361.3L876.6 360.3L876.7 359.3L876.8 358.3L876.8 357.2L876.9 356.2L877.0 355.2L877.1 354.2L877.1 353.1L877.2 352.1L877.3 351.1L877.4 350.1L877.6 349.1L877.7 348.1L877.8 347.0L877.9 346.0L878.0 345.0L878.1 344.0L878.3 343.0L878.4 342.0L878.5 341.0L878.6 340.0L878.7 338.9L878.9 337.9L879.0 336.9L879.1 335.9L879.2 334.9L879.3 333.9L879.4 332.9L879.6 331.9L879.7 330.8L879.8 329.8L879.9 328.8L880.0 327.8L880.2 326.8L880.3 325.8L880.4 324.8L880.5 323.8L880.6 322.7L880.7 321.7L880.9 320.7L881.0 319.7L881.1 317.8L881.6 317.9L882.2 317.1L882.7 315.8L883.2 315.3L883.8 314.7L884.3 314.0L884.8 311.9L885.4 311.6L885.9 310.1L886.4 309.0L887.0 309.9L887.5 308.4L887.6 309.4L887.8 310.4L887.9 311.4L888.1 312.4L888.2 313.4L888.4 314.4L888.5 315.4L888.7 316.4L888.8 317.4L888.9 318.4L889.1 319.4L889.2 320.4L889.4 321.4L889.5 322.4L889.7 323.4L889.8 324.4L890.0 325.4L890.1 326.4L890.2 327.4L890.2 328.4L890.3 329.4L890.4 330.4L890.4 331.4L890.5 332.4L890.5 333.4L890.6 334.4L890.7 335.4L890.7 336.4L890.8 337.4L890.9 338.4L890.9 339.4L891.0 340.4L891.1 341.4L891.1 342.4L891.2 343.4L891.2 344.4L891.3 345.4L891.4 346.4L891.4 347.5L891.5 348.5L891.6 349.5L891.6 350.5L891.7 351.5L891.7 352.5L891.8 353.5L891.9 354.5L891.9 355.5L892.0 356.5L892.1 357.5L892.1 358.5L892.2 359.5L892.3 360.5L892.3 361.5L892.4 362.5L892.4 363.5L892.5 364.5L892.6 365.5L892.6 366.5L892.7 368.0L893.0 367.3L893.3 366.0L893.6 364.3L894.0 363.8L894.3 362.4L894.6 362.5L894.9 359.3L895.2 359.8L895.2 358.8L895.3 357.7L895.3 356.7L895.4 355.7L895.4 354.6L895.5 353.6L895.5 352.6L895.6 351.5L895.6 350.5L895.7 349.5L895.7 348.4L895.8 347.4L895.8 346.4L895.8 345.3L895.9 344.3L895.9 343.3L896.0 342.2L896.0 341.2L896.1 340.2L896.1 339.1L896.2 338.1L896.2 337.1L896.3 336.0L896.3 335.0L896.4 334.0L896.4 333.0L896.5 332.0L896.5 331.0L896.6 330.0L896.7 329.0L896.7 328.0L896.8 327.0L896.8 326.0L896.9 325.0L897.0 324.0L897.0 323.0L897.1 322.0L897.1 321.0L897.2 320.0L897.3 319.0L897.3 318.0L897.4 317.0L897.4 316.0L897.5 315.0L897.6 314.0L897.8 313.0L897.9 312.0L898.0 311.0L898.1 310.0L898.2 309.0L898.4 308.0L898.5 307.0L898.6 306.0L898.8 305.0L898.9 304.0L899.0 303.0L899.1 302.0L899.2 301.0L899.4 300.0L899.5 299.2L899.9 297.6L900.3 297.3L900.8 296.5L901.2 294.3L901.6 294.4L902.0 293.2L903.0 291.0L904.0 292.6L905.0 290.3L905.9 290.6L906.9 292.4L907.8 291.8L908.8 292.7L909.7 293.0L910.7 292.6L911.7 294.5L912.7 294.6L913.7 294.0L914.7 295.7L915.7 295.5L916.6 296.4L917.6 296.8L918.4 296.8L919.2 298.1L920.0 298.3L920.8 299.8L921.6 300.2L921.7 299.2L921.8 298.2L921.9 297.1L921.9 296.1L922.0 295.1L922.1 294.1L922.2 293.1L922.3 292.1L922.4 291.1L922.4 290.0L922.5 289.0L922.6 288.1L922.8 288.7L923.1 290.8L923.3 291.2L923.5 293.1L923.7 292.8L924.0 293.8L924.2 295.0L924.3 296.0L924.4 297.0L924.5 298.0L924.6 299.0L924.7 300.0L924.8 301.0L924.9 302.0L925.0 303.0L925.2 304.0L925.3 305.0L925.4 306.0L925.5 307.0L925.6 308.0L925.7 309.0L925.8 310.0L925.9 311.0L926.0 312.0L926.1 311.0L926.2 310.0L926.3 309.0L926.4 308.0L926.5 307.0L926.6 306.0L926.8 305.0L926.9 304.0L927.0 303.0L927.1 302.0L927.2 301.0L927.3 300.0L927.4 299.0L927.5 297.9L927.6 296.9L927.7 295.8L927.8 294.8L927.9 293.8L928.1 292.7L928.2 291.7L928.3 290.7L928.4 289.6L928.5 288.6L928.6 287.5L928.7 286.1L929.6 286.1L930.5 285.5" fill="none" stroke="#F96566" stroke-width="5.0" stroke-linejoin="round" stroke-linecap="round"/>
<path d="M134.2 62.0L135.3 63.7L136.3 60.1L137.4 63.0L138.5 60.9L139.6 61.2L140.6 64.9L141.7 62.4L142.7 62.3L143.8 63.8L144.8 64.7L145.9 63.2L147.0 64.6L148.0 62.6L149.1 64.1L150.1 64.4L151.2 63.5L152.3 63.4L153.3 63.5L154.4 66.0L155.4 66.4L156.5 66.4L157.6 67.2L158.6 65.1L159.7 67.3L160.7 68.0L161.8 69.0L162.9 66.5L164.0 67.4L165.0 64.9L166.1 67.4L167.2 64.8L168.3 66.0L169.3 69.9L170.4 64.6L171.4 69.3L172.5 68.5L173.6 67.1L174.6 67.9L175.7 67.6L176.7 68.1L177.8 65.6L178.9 64.8L179.9 64.6L181.0 63.8L182.0 65.0L183.1 63.6L184.2 66.5L185.2 61.7L186.2 62.8L187.3 62.9L187.9 62.0L188.6 69.3L189.2 63.3L189.9 67.6L190.5 68.2L191.1 72.6L191.8 67.8L192.4 73.7L193.1 71.8L193.7 73.8L194.8 72.3L195.8 73.8L196.9 70.4L197.4 71.2L198.0 71.0L198.5 72.5L199.0 64.9L199.6 70.3L200.1 68.5L201.2 65.9L202.2 66.9L203.2 65.4L204.3 68.5L205.3 65.9L206.4 65.0L207.5 64.7L208.5 64.5L209.6 64.3L210.7 63.0L211.7 67.4L212.8 60.8L213.3 59.2L213.9 65.8L214.4 66.7L214.9 68.6L216.0 68.4L217.0 69.2L218.1 70.6L219.2 71.9L220.2 69.9L221.3 70.3L222.4 74.3L223.4 72.7L224.5 71.0L225.5 77.0L226.6 75.2L227.7 73.6L228.7 73.3L229.8 76.3L230.9 74.7L232.1 75.2L233.2 75.2L233.7 76.9L234.2 79.4L234.8 78.7L235.3 78.6L235.8 81.6L236.3 81.9L237.4 82.9L238.4 83.4L239.5 82.3L240.5 82.5L241.6 82.9L242.5 82.4L243.4 84.8L244.3 86.1L245.3 85.5L246.2 85.7L247.1 86.3L248.0 86.4L248.9 86.8L249.8 87.7L250.7 87.7L251.7 88.5L252.6 87.8L253.5 90.2L254.4 90.3L255.3 89.8L256.2 89.2L257.1 92.1L258.1 93.9L259.0 92.6L259.9 93.5L260.8 94.0L261.7 95.9L262.6 94.9L263.5 97.4L264.4 96.7L265.3 98.5L266.2 98.2L267.1 98.6L268.2 97.5L269.2 98.5L270.3 99.2L271.4 100.3L272.4 100.1L273.5 99.4L274.5 100.7L275.6 101.5L276.7 100.5L277.7 100.3L278.8 100.5L279.9 101.9L280.9 101.7L282.0 100.4L283.0 101.8L284.1 101.1L285.2 101.1L286.2 102.1L287.3 101.8L288.4 100.9L289.4 101.3L290.5 101.4L291.5 100.8L292.6 100.9L293.7 101.3L294.7 100.0L295.8 101.0L296.9 101.1L297.9 100.9L299.0 100.0L300.0 100.7L301.1 100.1L302.2 100.6L303.2 100.5L304.3 100.2L305.4 99.5L306.4 99.5L307.5 100.0L308.5 99.0L309.6 99.5L310.7 99.2L311.7 98.5L312.8 99.5L313.9 98.0L314.9 98.7L316.0 96.3L317.0 95.9L318.1 97.2L319.1 96.7L320.2 95.9L321.2 95.7L322.3 94.5L323.3 94.8L324.3 94.3L325.4 94.3L326.4 94.6L327.5 93.8L328.5 93.7L329.4 92.7L330.4 92.3L331.3 92.2L332.3 91.5L333.2 91.8L334.2 90.3L335.1 91.2L336.1 89.3L337.0 89.8L337.9 88.5L338.9 89.3L339.8 88.2L340.8 87.9L341.7 87.7L342.7 86.6L343.6 86.0L344.6 85.1L345.5 86.3L346.6 85.1L347.6 84.8L348.6 84.8L349.7 85.6L350.8 83.4L351.8 84.1L352.7 83.3L353.7 83.2L354.6 81.5L355.6 81.7L356.5 81.8L357.4 82.6L358.4 82.9L359.4 82.1L360.3 82.9L361.0 83.7L361.7 84.0L362.5 84.8L363.2 86.8L363.9 87.4L364.6 88.1L365.1 89.7L365.5 89.5L366.0 91.2L366.4 91.9L366.9 92.7L367.3 93.9L367.8 94.7L368.3 95.7L368.9 96.7L369.4 98.5L369.9 98.4L370.5 100.0L371.0 100.8L371.9 99.8L372.9 99.8L373.9 98.5L374.8 99.0L375.4 98.9L376.1 100.0L376.7 101.3L377.3 102.4L377.7 103.4L378.0 104.3L378.4 104.7L378.7 105.3L379.1 107.0L379.4 107.8L379.8 108.1L380.1 110.0L380.5 110.6L381.4 111.0L382.4 112.6L383.3 112.6L384.2 112.2L385.1 112.1L386.0 110.4L386.9 110.5L387.9 109.1L389.0 109.5L390.0 108.0L391.1 109.2L392.1 109.0L393.2 110.3L393.8 110.1L394.5 109.0L395.1 107.1L395.8 107.6L396.4 106.7L396.9 105.2L397.4 105.1L397.8 102.9L398.3 102.5L398.8 102.1L399.3 101.3L399.7 100.3L400.2 98.2L400.7 96.9L401.4 97.3L402.1 95.7L402.8 95.6L403.5 94.3L404.2 94.7L404.9 93.9L406.0 93.8L407.0 93.5L408.1 93.5L409.2 93.4L409.8 92.8L410.4 91.8L411.0 91.0L411.6 89.7L412.2 89.9L412.8 88.2L413.4 87.9L414.1 87.0L414.8 85.0L415.5 83.7L416.3 84.2L417.0 82.5L417.7 81.8L418.8 81.4L419.8 81.2L420.9 80.4L421.9 80.5L423.0 80.1L424.1 79.9L425.1 78.7L426.2 79.6L427.2 79.1L428.3 77.9L429.4 78.0L430.4 77.9L431.4 77.8L432.5 77.2L433.6 77.4L434.6 76.5L435.7 75.9L436.7 75.9L437.8 76.3L438.9 75.6L439.9 76.0L441.0 75.9L442.1 75.5L443.1 75.5L444.2 74.9L445.3 74.7L446.3 74.3L447.4 74.2L448.5 73.6L449.5 73.8L450.6 73.3L451.6 73.0L452.7 73.4L453.8 73.3L454.8 72.8L455.9 73.3L456.9 72.9L458.0 72.7L459.1 71.9L460.1 71.5L461.2 72.2L462.2 72.0L463.3 72.0L464.4 71.8L465.4 72.0L466.5 71.3L467.5 71.6L468.6 70.8L469.7 70.2L470.7 70.8L471.8 71.5L472.8 70.1L473.9 71.1L475.0 70.3L476.0 70.3L477.1 70.4L478.1 70.4L479.2 69.8L480.3 70.1L481.3 70.1L482.4 70.1L483.5 69.3L484.5 70.1L485.6 70.1L486.7 70.1L487.8 68.5L488.8 68.9L489.9 68.0L491.0 68.7L492.0 68.7L493.1 67.9L494.1 67.5L495.2 68.1L496.3 68.2L497.3 67.5L498.4 67.6L499.4 66.5L500.5 67.1L501.6 67.5L502.6 67.6L503.7 68.2L504.7 67.2L505.8 66.8L506.9 67.9L507.9 67.6L509.0 68.0L510.0 68.2L511.1 68.2L511.6 69.5L512.2 70.3L512.7 70.0L513.2 71.6L513.8 73.3L514.3 73.2L514.8 74.8L515.2 75.4L515.7 76.2L516.1 78.0L516.6 78.8L517.1 79.3L517.5 80.8L518.0 80.9L518.5 80.2L519.0 79.9L519.6 78.7L520.1 77.3L520.6 77.0L521.7 76.4L522.8 76.3L523.8 75.6L524.9 74.6L525.7 73.9L526.6 73.4L527.4 72.7L528.3 72.7L529.1 72.1L529.8 71.2L530.5 70.1L531.2 69.0L532.0 68.7L532.7 67.4L533.4 66.8L534.4 65.9L535.5 66.3L536.5 66.9L537.6 65.7L538.6 65.4L539.7 65.8L540.8 66.4L541.8 66.2L542.9 65.4L543.9 65.3L545.0 65.4L546.1 65.1L547.1 65.4L548.2 65.2L549.3 64.7L550.4 65.0L551.4 65.1L552.5 64.9L553.5 64.7L554.5 65.5L555.5 65.9L556.5 65.0L557.5 64.9L558.6 65.2L559.6 64.9L560.6 64.6L561.6 65.5L562.6 64.5L563.6 64.5L564.6 64.5L565.6 64.4L566.6 64.6L567.6 64.9L568.7 65.2L569.7 64.9L570.7 64.6L571.7 64.1L572.7 64.5L573.7 64.1L574.7 64.4L575.7 64.8L576.7 64.5L577.7 64.3L578.7 64.0L579.8 64.3L580.8 64.3L581.8 63.8L582.8 64.0L583.8 64.5L584.8 63.4L585.8 63.9L586.8 63.5L587.8 64.6L588.8 64.2L589.9 64.1L590.9 64.0L591.9 63.9L592.9 63.9L593.9 63.1L594.9 63.8L595.9 63.8L596.9 62.9L597.9 63.7L599.0 63.6L600.0 62.6L601.0 62.9L602.0 62.9L603.0 62.7L604.0 63.0L605.0 62.2L606.1 62.5L607.1 62.6L608.1 62.7L609.1 62.3L610.1 62.1L611.1 62.4L612.1 61.2L613.2 62.3L614.2 61.7L615.2 61.2L616.2 61.4L617.3 60.7L618.3 60.5L619.4 61.1L620.4 60.8L621.5 61.3L622.5 60.5L623.6 60.2L624.7 60.2L625.7 61.2L626.8 60.4L627.8 60.0L628.9 59.7L629.9 59.6L631.0 59.8L631.5 61.1L632.0 62.5L632.6 63.5L633.1 64.2L634.0 63.2L634.8 62.5L635.7 61.3L636.5 61.1L637.4 61.1L638.5 60.6L639.5 60.8L640.6 60.0L641.6 60.8L642.7 60.4L643.8 60.2L644.8 60.2L645.9 59.0L647.0 59.7L648.0 59.5L649.1 60.6L650.1 59.8L651.2 59.6L652.3 60.4L653.3 59.3L654.4 60.8L655.5 60.0L656.5 61.0L657.6 61.1L658.0 63.2L658.5 62.5L658.9 65.3L659.3 66.0L659.4 67.0L659.4 68.0L659.5 69.0L659.5 70.0L659.6 71.0L659.6 72.0L659.7 73.0L659.7 74.0L659.8 75.0L659.8 76.0L659.9 77.0L659.9 78.0L660.0 79.0L660.0 80.0L660.1 81.0L660.1 82.0L660.2 83.0L660.3 84.0L660.3 85.0L660.4 86.0L660.5 87.0L660.5 88.0L660.6 89.0L660.7 90.0L660.7 91.0L660.8 92.0L660.9 93.0L660.9 94.0L661.0 95.0L661.0 96.0L661.1 97.0L661.2 98.0L661.2 99.0L661.3 100.0L661.4 101.0L661.4 102.0L661.5 103.0L661.5 104.0L661.6 105.0L661.6 106.0L661.7 107.0L661.8 108.0L661.8 109.0L661.9 110.0L661.9 111.0L662.0 112.0L662.0 113.0L662.0 114.0L662.1 115.0L662.1 116.0L662.2 117.0L662.2 118.0L662.3 119.0L662.4 120.0L662.4 121.0L662.5 122.0L662.5 123.0L662.6 124.0L662.6 125.0L662.7 126.0L662.7 127.0L662.8 128.0L662.8 129.0L662.9 130.0L663.0 131.0L663.0 132.0L663.1 133.0L663.1 134.0L663.2 135.0L663.3 136.0L663.3 137.0L663.4 138.0L663.4 139.0L663.5 140.0L663.5 141.0L663.5 142.0L663.5 143.0L663.5 144.0L663.5 145.0L663.5 146.0L663.6 147.0L663.6 148.0L663.6 149.0L663.6 150.0L663.6 151.0L663.6 152.0L663.6 153.0L663.6 154.0L663.6 155.0L663.6 156.0L663.6 157.0L663.6 158.0L663.7 159.0L663.7 160.0L663.7 161.0L663.7 162.0L663.7 163.0L663.7 164.0L663.7 165.0L663.7 166.0L663.7 167.0L663.7 168.0L663.7 169.0L663.8 170.0L663.8 171.0L663.8 172.0L663.8 173.0L663.8 174.0L663.8 175.0L663.8 176.0L663.8 177.0L663.8 178.0L663.8 179.0L663.8 180.0L663.8 181.0L663.9 182.0L663.9 183.0L663.9 184.0L663.9 185.0L663.9 186.0L663.9 187.0L663.9 188.0L663.9 189.0L663.9 190.0L663.9 191.0L663.9 192.0L663.9 193.0L664.0 194.0L664.0 195.0L664.0 196.0L664.0 197.0L664.0 198.0L664.0 199.0L664.0 200.0L664.0 201.0L664.0 202.0L664.0 203.0L664.0 204.0L664.0 205.0L664.1 206.0L664.1 207.0L664.1 208.0L664.1 209.0L664.1 210.0L664.1 211.0L664.1 212.0L664.1 213.0L664.1 214.0L664.1 215.0L664.2 216.0L664.2 217.0L664.2 218.0L664.2 219.0L664.2 220.0L664.2 221.0L664.2 222.0L664.2 223.0L664.2 224.0L664.2 225.0L664.3 226.0L664.3 227.0L664.3 228.0L664.3 229.0L664.3 230.0L664.3 231.0L664.3 232.0L664.3 233.0L664.3 234.0L664.3 235.0L664.3 236.0L664.4 237.0L664.4 238.0L664.4 239.0L664.4 240.0L664.4 241.0L664.4 242.0L664.4 243.0L664.4 244.0L664.4 245.0L664.4 246.0L664.5 247.0L664.5 248.0L664.5 249.0L664.5 250.0L664.5 251.0L664.5 252.0L664.5 253.0L664.5 254.0L664.5 255.0L664.5 256.0L664.6 257.0L664.6 258.0L664.6 259.0L664.6 260.0L664.6 261.0L664.6 261.5L665.0 263.3L665.3 263.8L665.6 263.4L666.0 262.0L666.0 261.0L666.0 260.0L666.0 259.0L666.0 258.0L666.0 257.0L666.0 256.0L666.0 255.0L666.1 254.0L666.1 253.0L666.1 252.0L666.1 251.0L666.1 250.0L666.1 249.0L666.1 248.0L666.1 247.0L666.1 246.0L666.1 245.0L666.1 244.0L666.1 243.0L666.1 242.0L666.1 241.0L666.1 240.0L666.1 239.0L666.2 238.0L666.2 237.0L666.2 236.0L666.2 235.0L666.2 234.0L666.2 233.0L666.2 232.0L666.2 231.0L666.2 230.0L666.2 229.0L666.2 228.0L666.2 227.0L666.2 226.0L666.2 225.0L666.2 224.0L666.3 223.0L666.3 222.0L666.3 221.0L666.3 220.0L666.3 219.0L666.3 218.0L666.3 217.0L666.3 216.0L666.3 215.0L666.3 214.0L666.3 213.0L666.3 212.0L666.3 211.0L666.3 210.0L666.3 209.0L666.3 208.0L666.4 207.0L666.4 206.0L666.4 205.0L666.4 204.0L666.4 203.0L666.4 202.0L666.4 201.0L666.4 200.0L666.4 199.0L666.4 198.0L666.4 197.0L666.4 196.0L666.4 195.0L666.5 194.0L666.5 193.0L666.5 192.0L666.5 191.0L666.5 190.0L666.5 189.0L666.5 188.0L666.5 187.0L666.5 186.0L666.5 185.0L666.6 184.0L666.6 183.0L666.6 182.0L666.6 181.0L666.6 180.0L666.6 179.0L666.6 178.0L666.6 177.0L666.6 176.0L666.6 175.0L666.7 174.0L666.7 173.0L666.7 172.0L666.7 171.0L666.7 170.0L666.7 169.0L666.7 168.0L666.7 167.0L666.7 166.0L666.8 165.0L666.8 164.0L666.8 163.0L666.8 162.0L666.8 161.0L666.8 160.0L666.8 159.0L666.8 158.0L666.8 157.0L666.8 156.0L666.9 155.0L666.9 154.0L666.9 153.0L666.9 152.0L666.9 151.0L666.9 150.0L666.9 149.0L666.9 148.0L666.9 147.0L666.9 146.0L667.0 145.0L667.0 144.0L667.0 143.0L667.0 142.0L667.0 141.0L667.0 140.0L667.1 139.0L667.3 138.0L667.4 137.0L667.6 136.0L667.7 135.0L667.9 134.0L668.0 133.0L668.1 132.0L668.3 131.0L668.4 130.0L668.6 129.0L668.7 128.0L668.9 127.0L669.0 126.0L669.0 125.0L669.1 124.0L669.1 123.0L669.2 122.0L669.2 121.0L669.3 120.0L669.3 119.0L669.4 118.0L669.4 117.0L669.5 116.0L669.5 115.0L669.6 114.0L669.6 113.0L669.7 112.0L669.7 111.0L669.8 110.0L669.8 109.0L669.9 108.0L669.9 107.0L670.0 106.0L670.0 105.0L670.1 104.0L670.1 103.0L670.2 102.0L670.3 101.0L670.3 100.0L670.4 99.0L670.5 98.0L670.6 97.0L670.6 96.0L670.7 95.0L670.8 94.0L670.9 93.0L671.0 92.0L671.0 91.0L671.1 90.0L671.2 89.0L671.3 88.0L671.3 87.0L671.4 86.0L671.5 85.0L671.7 84.0L671.8 83.0L672.0 82.0L672.1 81.0L672.3 80.0L672.5 79.0L672.6 78.0L672.8 77.0L672.9 76.0L673.1 75.0L673.2 74.0L673.4 73.1L674.2 72.6L675.0 71.7L675.8 71.1L676.5 70.6L677.3 69.0L678.1 67.8L678.9 68.4L679.6 70.3L680.4 70.4L681.1 72.0L681.9 72.1L682.6 72.2L683.4 74.0L683.9 73.7L684.4 71.5L684.9 70.1L685.3 69.2L685.8 69.3L686.3 67.5L686.8 66.7L687.3 66.4L688.3 65.4L689.2 64.9L690.2 64.0L691.1 63.3L692.1 63.2L693.0 62.7L694.0 62.4L695.4 61.7L696.8 62.2L697.9 62.4L698.9 62.2L700.0 62.9L700.6 64.2L701.3 64.2L701.9 64.9L702.6 64.7L703.2 66.8L703.6 67.5L703.9 68.3L704.2 68.9L704.6 71.3L704.9 74.4L705.3 73.3L705.7 72.0L706.0 71.4L706.4 69.5L706.7 69.2L707.1 67.5L707.4 66.6L707.8 66.5L708.1 65.6L708.5 64.4L708.7 65.5L709.0 66.5L709.2 67.6L709.4 68.7L709.7 69.7L709.9 70.8L710.1 71.9L710.4 72.9L710.6 74.0L710.8 72.9L711.0 71.9L711.2 70.8L711.4 69.7L711.6 68.7L711.7 67.6L711.9 66.6L712.1 65.5L712.3 64.4L712.5 63.4L712.7 62.2L713.2 62.4L713.8 64.3L714.3 63.9L714.8 66.6L715.4 66.4L715.9 67.6L716.4 67.5L716.8 66.3L717.3 63.6L717.7 63.7L718.2 63.4L718.6 61.0L719.1 61.2L719.2 62.2L719.4 63.2L719.5 64.2L719.6 65.2L719.8 66.2L719.9 67.2L720.0 68.2L720.2 69.2L720.3 70.2L720.4 71.2L720.5 72.2L720.7 73.2L720.8 74.2L720.9 75.2L721.1 76.2L721.2 74.8L722.3 77.8L723.3 78.6L724.4 79.7L724.9 80.4L725.5 81.5L726.0 82.7L726.5 84.9L726.8 84.9L727.1 86.0L727.5 86.0L727.8 88.5L728.1 88.1L728.4 90.0L728.7 88.1L729.1 91.4L729.4 92.0L729.7 93.1L729.9 92.0L730.2 91.0L730.4 89.9L730.6 88.8L730.9 87.8L731.1 86.7L731.3 85.6L731.6 84.6L731.8 83.5L732.1 82.5L732.3 81.5L732.6 80.6L732.9 79.6L733.1 78.6L733.4 77.7L733.7 76.7L733.9 75.7L734.2 74.7L734.5 73.8L734.7 72.8L735.0 71.3L735.7 72.4L736.4 70.8L737.1 69.6L737.9 68.5L738.6 70.2L739.3 68.3L739.8 69.3L740.3 68.9L740.9 72.1L741.4 72.4L741.8 72.6L742.1 73.8L742.5 73.4L742.8 76.7L743.1 76.0L743.5 79.0L744.2 77.0L744.8 76.0L745.5 76.2L746.1 75.2L746.8 73.1L747.5 73.3L748.1 73.2L748.8 71.5L749.7 69.9L750.6 70.4L751.5 69.0L752.5 68.8L753.4 68.8L754.3 68.1L755.2 67.4L756.3 65.8L757.3 67.7L758.4 67.0L759.5 66.6L760.5 67.1L761.6 68.7L762.6 65.4L763.7 64.9L764.8 67.6L765.8 66.8L766.9 67.6L767.2 68.6L767.5 69.5L767.8 70.5L768.1 71.5L768.4 72.4L768.6 73.4L768.9 74.3L769.2 75.3L769.5 76.3L769.8 77.2L770.1 78.2L770.3 79.2L770.6 80.2L770.8 81.2L771.1 82.1L771.3 83.1L771.5 84.1L771.8 85.1L772.0 86.1L772.2 87.1L772.5 88.0L772.7 89.0L773.0 90.0L773.2 91.8L773.8 91.2L774.5 92.4L775.1 94.0L775.8 94.8L776.4 95.4L777.1 96.2L777.7 96.7L778.4 97.3L779.0 98.3L779.5 98.2L780.0 97.0L780.4 95.6L780.9 94.9L781.4 94.3L781.8 93.6L782.3 91.8L782.8 91.0L783.0 90.0L783.2 89.0L783.4 88.0L783.6 87.0L783.9 86.0L784.1 85.0L784.3 84.0L784.5 83.0L784.7 82.0L784.9 80.9L785.1 79.9L785.3 78.9L785.5 77.9L785.8 76.9L786.0 75.9L786.2 74.9L786.4 73.9L786.6 72.9L786.9 74.0L787.2 75.0L787.5 76.1L787.8 77.2L788.0 78.2L788.3 79.3L788.6 80.4L788.9 81.4L789.2 82.5L789.4 83.5L789.6 84.5L789.7 85.5L789.9 86.6L790.1 87.6L790.3 88.6L790.5 89.6L790.7 90.6L790.8 91.6L791.0 92.6L791.2 93.6L791.4 94.7L791.6 95.7L791.8 96.7L791.9 97.7L792.1 98.7L792.3 99.7L792.5 100.7L792.7 101.7L792.9 102.8L793.0 103.8L793.2 104.8L793.4 105.8L793.6 106.8L793.8 107.8L794.0 108.8L794.2 109.8L794.3 110.8L794.5 111.8L794.7 112.8L794.9 113.8L795.1 114.8L795.3 115.8L795.5 116.8L795.7 117.8L795.8 118.8L796.0 119.8L796.2 120.8L796.4 121.8L796.6 122.8L796.8 123.8L797.0 124.8L797.2 125.7L797.5 126.7L797.7 127.7L797.9 128.7L798.1 129.6L798.3 130.6L798.5 131.6L798.8 132.6L799.0 133.5L799.2 134.5L799.4 135.5L799.8 134.6L800.2 135.0L800.6 132.5L801.1 132.1L801.5 129.3L801.9 129.7L802.6 127.5L803.3 126.8L804.0 126.2L804.8 125.6L805.5 124.9L806.2 124.1L806.6 123.1L806.9 121.8L807.3 122.6L807.7 120.4L808.1 119.6L808.4 119.5L808.8 117.9L809.2 116.7L809.5 115.6L809.9 115.6L810.3 112.9L810.6 112.0L811.0 111.8L811.4 109.5L811.8 109.3L812.1 109.5L812.5 107.9L812.8 106.9L813.2 105.9L813.5 104.9L813.8 103.9L814.2 102.9L814.5 101.9L814.8 100.9L815.1 100.0L815.5 99.0L815.8 98.0L816.1 97.0L816.5 96.0L816.8 95.0L817.1 94.0L817.5 93.0L817.8 91.7L818.5 91.2L819.2 90.6L820.0 88.7L820.7 88.6L821.4 87.2L822.1 86.7L822.4 85.7L822.7 84.7L822.9 83.7L823.2 82.7L823.5 81.7L823.8 80.7L824.1 79.7L824.3 78.8L824.6 77.8L824.9 76.8L825.2 75.8L825.5 74.8L825.7 73.8L826.0 72.8L826.3 71.1L827.1 70.9L827.8 70.3L828.6 69.3L829.3 68.4L830.1 68.6L830.8 67.9L831.6 66.8L832.0 67.4L832.5 67.8L832.9 68.9L833.3 69.7L833.8 71.4L834.2 72.8L834.6 73.8L835.0 74.2L835.5 74.9L835.9 76.2L836.7 75.5L837.6 75.2L838.4 75.1L839.3 73.1L840.1 74.1L840.9 72.5L841.7 73.6L842.4 74.6L843.2 75.7L844.0 77.1L844.5 77.5L844.9 74.9L845.4 75.0L845.8 73.1L846.3 72.5L846.8 70.8L847.2 71.8L847.7 69.5L848.1 68.2L848.6 69.0L849.5 67.1L850.4 66.6L851.3 65.7L852.3 64.7L853.2 63.7L854.1 63.9L855.0 64.4L855.8 63.0L856.6 61.9L857.4 62.0L858.2 60.1L859.0 60.8L859.8 59.3L860.6 58.2L861.4 58.4L862.5 58.6L863.5 58.3L864.6 59.0L865.6 59.7L866.7 60.2L867.8 59.1L868.8 58.4L869.9 61.4L871.1 59.6L872.2 59.1L873.4 59.2L874.6 58.2L875.5 58.7L876.5 56.8L877.4 57.0L878.4 55.9L879.3 57.1L880.2 56.5L881.1 57.8L882.0 58.4L883.0 57.4L883.9 58.4L884.8 59.4L885.7 58.5L886.6 57.8L887.6 57.8L888.5 57.2L889.2 57.3L890.0 58.5L890.7 59.8L891.5 60.5L892.2 61.4L892.5 61.6L892.9 64.3L893.2 64.1L893.5 65.4L893.8 66.2L894.2 67.3L894.5 68.2L894.8 67.1L895.0 66.0L895.3 65.0L895.6 63.9L895.8 62.8L896.1 61.7L896.4 60.7L896.6 59.6L896.9 58.6L897.8 57.2L898.8 57.1L899.7 56.8L900.6 55.5L901.5 56.2L902.4 56.5L903.4 56.7L904.3 58.2L905.2 57.2L905.8 58.7L906.4 60.0L907.0 60.5L907.7 60.6L908.3 61.5L908.9 64.0L909.5 61.5L910.0 61.1L910.6 60.4L911.1 59.1L911.7 56.9L912.4 57.7L913.2 59.6L913.9 60.1L914.7 61.2L915.4 62.3L916.1 63.1L916.8 63.1L917.4 63.7L918.1 66.1L918.6 66.1L919.1 66.8L919.5 67.4L920.0 69.9L920.5 70.6L920.7 69.6L921.0 68.6L921.2 67.5L921.4 66.5L921.6 65.5L921.9 64.5L922.1 63.5L922.3 62.4L922.6 61.4L922.8 60.4L922.9 61.4L923.0 62.4L923.2 63.4L923.3 64.4L923.4 65.4L923.5 66.4L923.7 67.4L923.8 68.4L923.9 69.4L924.0 70.4L924.1 71.4L924.3 72.5L924.4 73.5L924.5 74.5L924.6 75.5L924.7 76.5L924.9 77.5L925.0 78.5L925.1 79.5L925.2 80.5L925.4 81.5L925.5 82.5L925.6 83.5L925.7 82.5L925.7 81.4L925.8 80.4L925.8 79.3L925.9 78.3L926.0 77.2L926.0 76.2L926.1 75.1L926.1 74.1L926.2 73.0L926.3 72.0L926.3 70.9L926.4 69.9L926.4 68.8L926.5 67.8L926.6 66.8L926.7 65.8L926.7 64.8L926.8 63.8L926.9 62.8L927.0 61.7L927.1 60.7L927.2 59.7L927.2 58.7L927.3 57.7L927.4 55.9L928.3 55.6L929.3 56.1L930.2 55.3" fill="none" stroke="#3183F7" stroke-width="5.0" stroke-linejoin="round" stroke-linecap="round"/>
<line x1="278.6" y1="109.3" x2="282.5" y2="147.9" stroke="#222" stroke-width="1"/>
<line x1="636.2" y1="459.8" x2="659.5" y2="468.3" stroke="#222" stroke-width="1"/>
<line x1="745" y1="395.9" x2="769.9" y2="377.7" stroke="#222" stroke-width="1"/>
<line x1="836.1" y1="382.6" x2="831.5" y2="410.3" stroke="#222" stroke-width="1"/>
<line x1="858" y1="405.7" x2="855.4" y2="442.9" stroke="#222" stroke-width="1"/>
<line x1="876.7" y1="398.5" x2="881.9" y2="428.8" stroke="#222" stroke-width="1"/>
<line x1="899.5" y1="370" x2="904.2" y2="392.8" stroke="#222" stroke-width="1"/>
<line x1="769.4" y1="486.6" x2="796.3" y2="511" stroke="#222" stroke-width="1"/>
<line x1="382.4" y1="579.5" x2="366.1" y2="604.2" stroke="#222" stroke-width="1"/>
<line x1="409.2" y1="559.3" x2="427.2" y2="582.7" stroke="#222" stroke-width="1"/>
<line x1="549.1" y1="582.9" x2="567.7" y2="597.7" stroke="#222" stroke-width="1"/>
<line x1="681.1" y1="571.5" x2="686.2" y2="581" stroke="#222" stroke-width="1"/>
<line x1="663.7" y1="605.5" x2="663.7" y2="613.7" stroke="#222" stroke-width="1"/>
<line x1="729.5" y1="604.6" x2="727.7" y2="620" stroke="#222" stroke-width="1"/>
<line x1="787.3" y1="619.5" x2="807.9" y2="623.9" stroke="#222" stroke-width="1"/>
<text class="pk" x="270.2" y="167.0">3413</text>
<text class="pk" x="596.6" y="459.8">1725</text>
<text class="pk" x="721.8" y="414.7">1253</text>
<text class="pk" x="821.2" y="426.2">992</text>
<text class="pk" x="844.4" y="460.9">906</text>
<text class="pk" x="882.4" y="447.3">846</text>
<text class="pk" x="906.8" y="408.3">758</text>
<text class="pk" x="738.0" y="482.2">1148</text>
<text class="pk" x="348.2" y="625.0">2925</text>
<text class="pk" x="430.6" y="597.3">2855</text>
<text class="pk" x="569.6" y="608.7">2243</text>
<text class="pk" x="679.0" y="598.4">1668</text>
<text class="pk" x="645.5" y="629.0">1736</text>
<text class="pk" x="713.4" y="637.5">1454</text>
<text class="pk" x="811.0" y="630.3">1234</text>
<text class="pl" x="153.5" y="44.5">(c)</text>
<text class="pl" x="158.5" y="271">(b)</text>
<text class="pl" x="161.5" y="526">(a)</text>
<text class="at" transform="translate(27.1,333.7) rotate(-90)" text-anchor="middle">%Transmittance</text>
<text class="at" x="384.3" y="746" style="font-size:32.7px">wavenumber (cm<tspan class="sup" dx="0.5" dy="-11">−1</tspan><tspan class="rp" dx="1" dy="11">)</tspan></text>
</svg></body></html>
